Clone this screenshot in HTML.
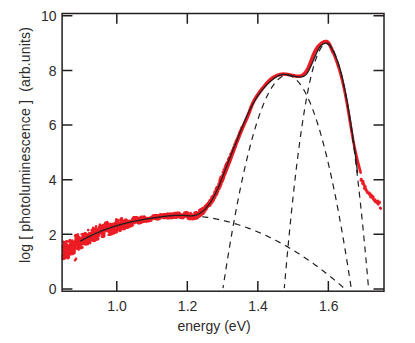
<!DOCTYPE html><html><head><meta charset="utf-8"><style>
html,body{margin:0;padding:0;background:#fff}
body{width:415px;height:343px;position:relative;overflow:hidden;font-family:"Liberation Sans",sans-serif;font-size:14px;color:#2e2b2c}
.t{position:absolute;white-space:pre;line-height:16px}
.yl{width:30px;text-align:right;left:26.6px}
.xl{width:40px;text-align:center}
</style></head><body>
<svg width="415" height="343" viewBox="0 0 415 343" style="position:absolute;left:0;top:0">
<path d="M62.6,258.7h0M62.7,255.0h0M62.7,256.8h0M62.8,255.3h0M62.8,247.3h0M62.9,246.0h0M62.9,250.2h0M63.0,250.7h0M63.0,249.9h0M63.1,253.2h0M63.1,253.4h0M63.2,256.3h0M63.2,253.1h0M63.3,241.7h0M63.3,248.4h0M63.4,254.2h0M63.5,254.7h0M63.5,256.5h0M63.6,250.4h0M63.6,250.2h0M63.7,259.0h0M63.7,249.6h0M63.8,254.6h0M63.8,244.8h0M63.9,250.9h0M63.9,243.3h0M64.0,253.6h0M64.0,252.7h0M64.1,249.8h0M64.1,246.1h0M64.2,248.4h0M64.2,256.9h0M64.3,250.0h0M64.4,250.7h0M64.4,252.8h0M64.5,253.7h0M64.5,242.3h0M64.6,252.3h0M64.6,254.4h0M64.7,247.3h0M64.7,249.6h0M64.8,250.5h0M64.8,246.4h0M64.9,247.7h0M64.9,248.2h0M65.0,245.3h0M65.0,248.4h0M65.1,252.6h0M65.2,251.3h0M65.2,251.9h0M65.3,248.4h0M65.3,254.4h0M65.4,257.8h0M65.4,248.8h0M65.5,255.3h0M65.5,258.1h0M65.6,247.2h0M65.6,252.1h0M65.7,246.5h0M65.7,251.1h0M65.8,253.8h0M65.8,254.3h0M65.9,250.8h0M65.9,249.6h0M66.0,252.1h0M66.1,249.7h0M66.1,255.5h0M66.2,248.5h0M66.2,256.9h0M66.3,249.7h0M66.3,245.7h0M66.4,244.0h0M66.4,241.3h0M66.5,256.2h0M66.5,245.8h0M66.6,243.9h0M66.6,245.0h0M66.7,253.7h0M66.7,247.7h0M66.8,241.3h0M66.9,256.5h0M66.9,247.7h0M67.0,245.0h0M67.0,253.2h0M67.1,247.5h0M67.1,255.0h0M67.2,253.9h0M67.2,254.0h0M67.3,249.6h0M67.3,251.0h0M67.4,246.4h0M67.4,254.9h0M67.5,251.4h0M67.5,246.7h0M67.6,248.5h0M67.6,256.9h0M67.7,248.2h0M67.8,253.4h0M67.8,249.6h0M67.9,250.1h0M67.9,246.2h0M68.0,251.1h0M68.0,258.3h0M68.1,257.4h0M68.1,248.2h0M68.2,252.3h0M68.2,246.1h0M68.3,249.8h0M68.3,254.1h0M68.4,246.0h0M68.4,254.1h0M68.5,257.9h0M68.6,241.5h0M68.6,257.8h0M68.7,247.4h0M68.7,246.0h0M68.8,249.2h0M68.8,257.0h0M68.9,245.3h0M68.9,255.7h0M69.0,255.1h0M69.0,250.8h0M69.1,245.8h0M69.1,247.8h0M69.2,245.5h0M69.2,250.7h0M69.3,249.4h0M69.4,253.4h0M69.4,249.8h0M69.5,245.8h0M69.5,249.5h0M69.6,246.1h0M69.6,250.4h0M69.7,250.3h0M69.7,247.6h0M69.8,248.5h0M69.8,245.1h0M69.9,246.7h0M69.9,240.1h0M70.0,248.1h0M70.0,248.1h0M70.1,251.4h0M70.1,247.0h0M70.2,244.2h0M70.3,250.0h0M70.3,247.2h0M70.4,244.0h0M70.4,247.4h0M70.5,249.0h0M70.5,242.8h0M70.6,246.4h0M70.6,245.1h0M70.7,241.9h0M70.7,242.0h0M70.8,248.1h0M70.8,248.7h0M70.9,245.4h0M70.9,247.1h0M71.0,254.2h0M71.1,241.3h0M71.1,246.4h0M71.2,243.4h0M71.2,251.1h0M71.3,241.1h0M71.3,248.7h0M71.4,246.7h0M71.4,251.9h0M71.5,246.9h0M71.5,247.1h0M71.6,246.9h0M71.6,244.3h0M71.7,245.8h0M71.7,242.1h0M71.8,247.9h0M71.8,249.9h0M71.9,246.0h0M72.0,243.4h0M72.0,240.9h0M72.1,242.8h0M72.1,253.1h0M72.2,244.8h0M72.2,240.6h0M72.3,246.3h0M72.3,248.7h0M72.4,245.6h0M72.4,248.9h0M72.5,244.5h0M72.5,247.2h0M72.6,241.8h0M72.6,245.5h0M72.7,250.4h0M72.8,245.3h0M72.8,244.2h0M72.9,250.2h0M72.9,249.7h0M73.0,254.0h0M73.0,244.8h0M73.1,250.7h0M73.1,253.9h0M73.2,253.8h0M73.2,249.7h0M73.3,246.0h0M73.3,249.4h0M73.4,247.4h0M73.4,253.6h0M73.5,253.6h0M73.5,246.2h0M73.6,247.8h0M73.7,249.9h0M73.7,245.0h0M73.8,253.4h0M73.8,251.8h0M73.9,246.4h0M73.9,243.4h0M74.0,250.5h0M74.0,244.1h0M74.1,252.5h0M74.1,248.6h0M74.2,250.2h0M74.2,253.0h0M74.3,248.0h0M74.3,245.2h0M74.4,249.0h0M74.5,248.4h0M74.5,242.6h0M74.6,252.3h0M74.6,252.7h0M74.7,249.5h0M74.7,251.2h0M74.8,241.4h0M74.8,245.0h0M74.9,249.1h0M74.9,247.9h0M75.0,235.6h0M75.0,247.3h0M75.1,247.6h0M75.1,243.4h0M75.2,241.8h0M75.2,243.1h0M75.3,247.0h0M75.4,247.6h0M75.4,240.9h0M75.5,243.0h0M75.5,248.6h0M75.6,238.0h0M75.6,239.2h0M75.7,242.6h0M75.7,242.4h0M75.8,240.3h0M75.8,243.4h0M75.9,245.6h0M75.9,239.2h0M76.0,245.3h0M76.0,238.7h0M76.1,245.3h0M76.2,240.5h0M76.2,240.6h0M76.3,235.1h0M76.3,244.0h0M76.4,245.2h0M76.4,242.5h0M76.5,244.2h0M76.5,242.3h0M76.6,238.7h0M76.6,237.4h0M76.7,235.0h0M76.7,242.8h0M76.8,234.9h0M76.8,234.9h0M76.9,241.0h0M77.0,248.4h0M77.0,240.5h0M77.1,240.0h0M77.1,248.4h0M77.2,240.0h0M77.2,241.0h0M77.3,243.0h0M77.3,238.1h0M77.4,236.8h0M77.4,242.0h0M77.5,239.5h0M77.5,242.6h0M77.6,243.1h0M77.6,240.1h0M77.7,238.5h0M77.7,242.3h0M77.8,248.0h0M77.9,238.3h0M77.9,245.9h0M78.0,240.0h0M78.0,234.5h0M78.1,240.5h0M78.1,244.6h0M78.2,245.6h0M78.2,236.7h0M78.3,240.8h0M78.3,239.0h0M78.4,237.7h0M78.4,241.2h0M78.5,242.1h0M78.5,244.4h0M78.6,249.6h0M78.7,246.4h0M78.7,241.6h0M78.8,242.0h0M78.8,240.1h0M78.9,242.0h0M78.9,241.1h0M79.0,239.0h0M79.0,244.7h0M79.1,242.8h0M79.1,247.3h0M79.2,238.7h0M79.2,241.9h0M79.3,240.5h0M79.3,237.0h0M79.4,238.6h0M79.4,242.5h0M79.5,239.7h0M79.6,247.2h0M79.6,241.1h0M79.7,242.1h0M79.7,248.0h0M79.8,238.3h0M79.8,245.1h0M79.9,240.6h0M79.9,244.3h0M80.0,239.7h0M80.0,238.6h0M80.1,245.6h0M80.1,247.8h0M80.2,243.2h0M80.2,239.9h0M80.3,243.8h0M80.4,244.6h0M80.4,240.9h0M80.5,248.2h0M80.5,244.5h0M80.6,246.8h0M80.6,241.3h0M80.7,244.6h0M80.7,245.7h0M80.8,243.2h0M80.8,246.8h0M80.9,241.9h0M80.9,244.1h0M81.0,243.0h0M81.0,244.5h0M81.1,239.1h0M81.1,242.3h0M81.2,240.2h0M81.3,240.3h0M81.3,244.4h0M81.4,239.9h0M81.4,240.5h0M81.5,240.6h0M81.5,242.8h0M81.6,242.8h0M81.6,238.8h0M81.7,234.2h0M81.7,244.0h0M81.8,239.5h0M81.8,242.3h0M81.9,238.5h0M81.9,239.6h0M82.0,237.5h0M82.1,247.7h0M82.1,242.7h0M82.2,243.9h0M82.2,240.9h0M82.3,242.9h0M82.3,242.5h0M82.4,238.1h0M82.4,234.1h0M82.5,247.4h0M82.5,241.1h0M82.6,239.0h0M82.6,239.9h0M82.7,241.0h0M82.7,244.1h0M82.8,242.7h0M82.9,237.2h0M82.9,236.0h0M83.0,239.1h0M83.0,242.1h0M83.1,239.0h0M83.1,240.0h0M83.2,237.3h0M83.2,238.6h0M83.3,240.9h0M83.3,238.2h0M83.4,242.6h0M83.4,236.0h0M83.5,234.8h0M83.5,242.3h0M83.6,237.1h0M83.6,241.6h0M83.7,234.8h0M83.8,235.3h0M83.8,238.9h0M83.9,234.8h0M83.9,239.3h0M84.0,239.9h0M84.0,239.7h0M84.1,238.3h0M84.1,238.9h0M84.2,237.4h0M84.2,239.9h0M84.3,235.5h0M84.3,234.7h0M84.4,239.6h0M84.4,242.7h0M84.5,235.8h0M84.6,234.5h0M84.6,238.7h0M84.7,242.3h0M84.7,237.4h0M84.8,233.3h0M84.8,244.3h0M84.9,236.8h0M84.9,239.3h0M85.0,241.1h0M85.0,236.8h0M85.1,242.6h0M85.1,237.5h0M85.2,234.3h0M85.2,237.9h0M85.3,241.4h0M85.3,244.3h0M85.4,242.7h0M85.5,244.5h0M85.5,233.5h0M85.6,239.5h0M85.6,242.1h0M85.7,242.9h0M85.7,242.2h0M85.8,239.9h0M85.8,242.9h0M85.9,233.5h0M85.9,241.3h0M86.0,241.4h0M86.0,237.9h0M86.1,234.2h0M86.1,234.6h0M86.2,240.4h0M86.3,238.0h0M86.3,238.3h0M86.4,237.0h0M86.4,237.9h0M86.5,241.7h0M86.5,242.7h0M86.6,238.1h0M86.6,242.4h0M86.7,234.2h0M86.7,238.4h0M86.8,241.8h0M86.8,239.5h0M86.9,240.1h0M86.9,238.8h0M87.0,235.4h0M87.0,243.0h0M87.1,244.3h0M87.2,237.2h0M87.2,238.8h0M87.3,237.7h0M87.3,236.8h0M87.4,238.8h0M87.4,235.6h0M87.5,241.0h0M87.5,237.9h0M87.6,240.7h0M87.6,241.6h0M87.7,236.0h0M87.7,236.2h0M87.8,244.1h0M87.8,241.5h0M87.9,237.0h0M88.0,234.5h0M88.0,239.9h0M88.1,238.5h0M88.1,242.4h0M88.2,230.1h0M88.2,236.6h0M88.3,235.3h0M88.3,236.1h0M88.4,235.3h0M88.4,236.4h0M88.5,239.5h0M88.5,236.1h0M88.6,238.3h0M88.6,234.5h0M88.7,241.0h0M88.8,240.4h0M88.8,236.7h0M88.9,234.8h0M88.9,238.5h0M89.0,241.2h0M89.0,239.4h0M89.1,240.7h0M89.1,233.2h0M89.2,236.4h0M89.2,235.3h0M89.3,238.4h0M89.3,241.2h0M89.4,235.8h0M89.4,234.4h0M89.5,237.8h0M89.5,239.8h0M89.6,236.4h0M89.7,241.0h0M89.7,237.5h0M89.8,242.2h0M89.8,243.1h0M89.9,238.3h0M89.9,239.1h0M90.0,234.2h0M90.0,241.0h0M90.1,239.9h0M90.1,243.1h0M90.2,243.1h0M90.2,243.1h0M90.3,237.8h0M90.3,242.8h0M90.4,235.4h0M90.5,234.3h0M90.5,239.4h0M90.6,233.2h0M90.6,237.5h0M90.7,234.5h0M90.7,238.5h0M90.8,234.7h0M90.8,240.4h0M90.9,235.4h0M90.9,238.6h0M91.0,237.4h0M91.0,234.8h0M91.1,236.1h0M91.1,236.7h0M91.2,234.0h0M91.2,233.6h0M91.3,240.2h0M91.4,234.0h0M91.4,233.4h0M91.5,237.7h0M91.5,234.0h0M91.6,239.2h0M91.6,230.3h0M91.7,235.4h0M91.7,234.7h0M91.8,230.6h0M91.8,234.6h0M91.9,232.1h0M91.9,237.1h0M92.0,235.4h0M92.0,237.9h0M92.1,234.3h0M92.2,230.4h0M92.2,232.9h0M92.3,230.9h0M92.3,236.8h0M92.4,236.4h0M92.4,235.1h0M92.5,231.9h0M92.5,232.6h0M92.6,233.7h0M92.6,231.7h0M92.7,234.2h0M92.7,233.8h0M92.8,229.6h0M92.8,235.5h0M92.9,233.1h0M92.9,228.7h0M93.0,233.4h0M93.1,231.5h0M93.1,235.6h0M93.2,227.7h0M93.2,240.7h0M93.3,237.3h0M93.3,237.0h0M93.4,228.8h0M93.4,232.7h0M93.5,234.6h0M93.5,237.8h0M93.6,232.7h0M93.6,233.5h0M93.7,236.0h0M93.7,238.5h0M93.8,237.3h0M93.9,233.2h0M93.9,232.9h0M94.0,233.6h0M94.0,234.3h0M94.1,239.3h0M94.1,233.6h0M94.2,236.9h0M94.2,233.6h0M94.3,232.2h0M94.3,235.7h0M94.4,236.8h0M94.4,230.5h0M94.5,232.5h0M94.5,235.5h0M94.6,240.9h0M94.7,233.6h0M94.7,231.5h0M94.8,229.9h0M94.8,235.4h0M94.9,235.3h0M94.9,234.6h0M95.0,230.6h0M95.0,236.8h0M95.1,233.5h0M95.1,236.0h0M95.2,232.3h0M95.2,237.8h0M95.3,231.9h0M95.3,234.5h0M95.4,233.6h0M95.4,231.3h0M95.5,229.4h0M95.6,238.1h0M95.6,229.7h0M95.7,231.1h0M95.7,233.6h0M95.8,228.4h0M95.8,232.1h0M95.9,228.7h0M95.9,234.4h0M96.0,235.2h0M96.0,228.9h0M96.1,226.4h0M96.1,230.9h0M96.2,230.2h0M96.2,234.5h0M96.3,237.2h0M96.4,234.0h0M96.4,228.8h0M96.5,239.2h0M96.5,235.1h0M96.6,239.6h0M96.6,233.5h0M96.7,231.2h0M96.7,237.8h0M96.8,235.4h0M96.8,230.2h0M96.9,234.6h0M96.9,238.2h0M97.0,238.6h0M97.0,239.7h0M97.1,232.4h0M97.1,237.2h0M97.2,231.8h0M97.3,232.5h0M97.3,237.2h0M97.4,236.9h0M97.4,233.1h0M97.5,235.1h0M97.5,234.8h0M97.6,239.5h0M97.6,233.1h0M97.7,238.6h0M97.7,239.4h0M97.8,238.1h0M97.8,235.0h0M97.9,230.0h0M97.9,237.6h0M98.0,239.3h0M98.1,229.9h0M98.1,235.6h0M98.2,236.7h0M98.2,238.9h0M98.3,238.4h0M98.3,230.6h0M98.4,235.7h0M98.4,236.2h0M98.5,235.9h0M98.5,229.3h0M98.6,235.6h0M98.6,231.7h0M98.7,232.5h0M98.7,232.3h0M98.8,235.5h0M98.8,230.6h0M98.9,227.4h0M99.0,232.2h0M99.0,234.6h0M99.1,235.5h0M99.1,230.7h0M99.2,231.9h0M99.2,231.1h0M99.3,230.5h0M99.3,234.8h0M99.4,227.7h0M99.4,229.1h0M99.5,229.8h0M99.5,228.6h0M99.6,226.2h0M99.6,228.6h0M99.7,231.1h0M99.8,224.9h0M99.8,229.3h0M99.9,230.0h0M99.9,232.2h0M100.0,227.3h0M100.0,230.3h0M100.1,228.8h0M100.1,226.0h0M100.2,227.3h0M100.2,224.7h0M100.3,226.7h0M100.3,228.9h0M100.4,228.8h0M100.4,229.4h0M100.5,226.0h0M100.5,228.0h0M100.6,229.3h0M100.7,225.7h0M100.7,228.0h0M100.8,229.8h0M100.8,233.0h0M100.9,227.2h0M100.9,227.9h0M101.0,228.6h0M101.0,230.1h0M101.1,231.4h0M101.1,229.7h0M101.2,228.4h0M101.2,229.5h0M101.3,229.7h0M101.3,230.7h0M101.4,228.4h0M101.5,228.8h0M101.5,231.8h0M101.6,227.4h0M101.6,227.4h0M101.7,227.4h0M101.7,230.3h0M101.8,230.6h0M101.8,233.6h0M101.9,227.9h0M101.9,236.7h0M102.0,231.5h0M102.0,231.4h0M102.1,227.9h0M102.1,230.4h0M102.2,233.3h0M102.3,234.7h0M102.3,232.7h0M102.4,230.2h0M102.4,230.4h0M102.5,231.1h0M102.5,232.6h0M102.6,231.2h0M102.6,227.6h0M102.7,233.9h0M102.7,230.5h0M102.8,225.8h0M102.8,229.0h0M102.9,232.0h0M102.9,228.7h0M103.0,232.9h0M103.0,230.7h0M103.1,226.1h0M103.2,225.1h0M103.2,235.9h0M103.3,228.7h0M103.3,225.0h0M103.4,232.5h0M103.4,230.1h0M103.5,226.4h0M103.5,232.4h0M103.6,229.6h0M103.6,231.1h0M103.7,236.7h0M103.7,229.9h0M103.8,231.5h0M103.8,228.2h0M103.9,224.8h0M104.0,229.0h0M104.0,232.1h0M104.1,229.5h0M104.1,230.0h0M104.2,227.4h0M104.2,234.5h0M104.3,233.5h0M104.3,235.9h0M104.4,227.9h0M104.4,229.6h0M104.5,231.2h0M104.5,231.3h0M104.6,230.6h0M104.6,231.5h0M104.7,229.5h0M104.7,229.8h0M104.8,224.1h0M104.9,227.0h0M104.9,230.2h0M105.0,229.3h0M105.0,223.9h0M105.1,225.9h0M105.1,226.2h0M105.2,224.7h0M105.2,222.9h0M105.3,230.0h0M105.3,228.5h0M105.4,231.2h0M105.4,224.4h0M105.5,226.8h0M105.5,227.5h0M105.6,227.6h0M105.7,223.1h0M105.7,225.3h0M105.8,226.3h0M105.8,222.7h0M105.9,227.4h0M105.9,227.9h0M106.0,222.6h0M106.0,225.0h0M106.1,225.6h0M106.1,226.3h0M106.2,224.7h0M106.2,222.5h0M106.3,222.5h0M106.3,223.0h0M106.4,225.6h0M106.4,229.3h0M106.5,224.2h0M106.6,222.4h0M106.6,222.3h0M106.7,225.9h0M106.7,223.2h0M106.8,226.8h0M106.8,226.0h0M106.9,229.6h0M106.9,227.0h0M107.0,225.8h0M107.0,226.8h0M107.1,224.2h0M107.1,222.1h0M107.2,222.8h0M107.2,227.7h0M107.3,229.1h0M107.4,229.0h0M107.4,230.1h0M107.5,227.2h0M107.5,226.2h0M107.6,227.1h0M107.6,227.2h0M107.7,227.4h0M107.7,228.4h0M107.8,230.3h0M107.8,223.1h0M107.9,225.2h0M107.9,231.2h0M108.0,231.4h0M108.0,230.5h0M108.1,228.7h0M108.2,225.1h0M108.2,225.9h0M108.3,225.9h0M108.3,225.9h0M108.4,225.9h0M108.4,227.1h0M108.5,228.0h0M108.5,229.8h0M108.6,234.8h0M108.6,230.0h0M108.7,224.3h0M108.7,231.4h0M108.8,231.8h0M108.8,226.9h0M108.9,229.8h0M108.9,231.6h0M109.0,225.5h0M109.1,228.4h0M109.1,228.1h0M109.2,232.2h0M109.2,229.1h0M109.3,229.5h0M109.3,228.4h0M109.4,227.3h0M109.4,227.5h0M109.5,230.5h0M109.5,229.0h0M109.6,234.6h0M109.6,229.3h0M109.7,229.2h0M109.7,232.6h0M109.8,233.8h0M109.9,231.7h0M109.9,234.7h0M110.0,230.7h0M110.0,230.9h0M110.1,234.6h0M110.1,231.4h0M110.2,228.3h0M110.2,228.2h0M110.3,228.3h0M110.3,231.7h0M110.4,232.2h0M110.4,232.2h0M110.5,229.1h0M110.5,223.7h0M110.6,226.5h0M110.6,225.8h0M110.7,226.5h0M110.8,234.4h0M110.8,231.0h0M110.9,231.6h0M110.9,226.4h0M111.0,225.0h0M111.0,232.0h0M111.1,229.8h0M111.1,228.1h0M111.2,231.2h0M111.2,231.6h0M111.3,231.6h0M111.3,226.8h0M111.4,232.1h0M111.4,225.8h0M111.5,228.9h0M111.6,226.8h0M111.6,224.3h0M111.7,230.9h0M111.7,231.3h0M111.8,227.4h0M111.8,231.8h0M111.9,230.7h0M111.9,228.8h0M112.0,227.9h0M112.0,232.2h0M112.1,229.6h0M112.1,226.8h0M112.2,224.6h0M112.2,234.0h0M112.3,225.0h0M112.3,226.4h0M112.4,232.5h0M112.5,233.8h0M112.5,228.2h0M112.6,230.8h0M112.6,229.2h0M112.7,227.2h0M112.7,231.0h0M112.8,229.5h0M112.8,228.7h0M112.9,227.6h0M112.9,225.1h0M113.0,225.4h0M113.0,229.9h0M113.1,231.4h0M113.1,223.7h0M113.2,229.0h0M113.3,229.8h0M113.3,233.5h0M113.4,229.0h0M113.4,233.5h0M113.5,232.9h0M113.5,233.4h0M113.6,233.3h0M113.6,231.7h0M113.7,233.3h0M113.7,233.3h0M113.8,232.4h0M113.8,233.3h0M113.9,233.3h0M113.9,233.2h0M114.0,233.2h0M114.1,230.6h0M114.1,233.2h0M114.2,229.6h0M114.2,228.9h0M114.3,233.1h0M114.3,231.0h0M114.4,232.3h0M114.4,233.0h0M114.5,231.3h0M114.5,230.8h0M114.6,227.8h0M114.6,226.6h0M114.7,232.6h0M114.7,230.3h0M114.8,227.3h0M114.8,225.1h0M114.9,232.8h0M115.0,224.3h0M115.0,228.3h0M115.1,223.1h0M115.1,228.5h0M115.2,229.5h0M115.2,226.7h0M115.3,223.2h0M115.3,226.2h0M115.4,232.6h0M115.4,223.8h0M115.5,230.2h0M115.5,228.2h0M115.6,228.4h0M115.6,230.1h0M115.7,228.2h0M115.8,227.2h0M115.8,225.9h0M115.9,224.0h0M115.9,224.6h0M116.0,227.6h0M116.0,223.7h0M116.1,220.5h0M116.1,220.7h0M116.2,223.1h0M116.2,221.8h0M116.3,221.1h0M116.3,219.8h0M116.4,219.3h0M116.4,224.8h0M116.5,224.8h0M116.5,219.9h0M116.6,219.7h0M116.7,219.8h0M116.7,231.0h0M116.8,225.0h0M116.8,232.1h0M116.9,222.5h0M116.9,224.5h0M117.0,224.6h0M117.0,225.2h0M117.1,221.2h0M117.1,225.8h0M117.2,222.2h0M117.2,223.6h0M117.3,224.3h0M117.3,224.0h0M117.4,225.1h0M117.5,228.6h0M117.5,223.6h0M117.6,223.7h0M117.6,226.2h0M117.7,223.8h0M117.7,223.4h0M117.8,229.6h0M117.8,226.5h0M117.9,227.4h0M117.9,228.8h0M118.0,225.4h0M118.0,228.7h0M118.1,227.6h0M118.1,225.7h0M118.2,225.4h0M118.2,225.5h0M118.3,220.2h0M118.4,227.8h0M118.4,225.7h0M118.5,229.8h0M118.5,225.1h0M118.6,223.2h0M118.6,223.1h0M118.7,228.2h0M118.7,227.2h0M118.8,223.0h0M118.8,226.7h0M118.9,223.8h0M118.9,229.1h0M119.0,222.6h0M119.0,223.6h0M119.1,225.2h0M119.2,228.7h0M119.2,226.9h0M119.3,226.1h0M119.3,225.8h0M119.4,226.8h0M119.4,227.1h0M119.5,226.0h0M119.5,222.7h0M119.6,231.0h0M119.6,230.3h0M119.7,230.7h0M119.7,228.4h0M119.8,230.9h0M119.8,225.0h0M119.9,226.3h0M119.9,227.2h0M120.0,228.4h0M120.1,226.0h0M120.1,225.8h0M120.2,225.2h0M120.2,228.0h0M120.3,224.1h0M120.3,229.7h0M120.4,222.2h0M120.4,230.7h0M120.5,226.9h0M120.5,228.4h0M120.6,223.0h0M120.6,228.9h0M120.7,219.9h0M120.7,228.8h0M120.8,219.1h0M120.9,223.2h0M120.9,224.2h0M121.0,223.0h0M121.0,218.5h0M121.1,221.5h0M121.1,229.7h0M121.2,220.5h0M121.2,222.9h0M121.3,227.7h0M121.3,221.2h0M121.4,226.3h0M121.4,222.5h0M121.5,222.3h0M121.5,224.5h0M121.6,220.9h0M121.7,225.2h0M121.7,221.9h0M121.8,223.7h0M121.8,222.6h0M121.9,218.3h0M121.9,221.6h0M122.0,224.6h0M122.0,222.0h0M122.1,223.9h0M122.1,222.0h0M122.2,221.8h0M122.2,222.1h0M122.3,222.3h0M122.3,224.1h0M122.4,221.7h0M122.4,220.3h0M122.5,224.8h0M122.6,223.5h0M122.6,223.3h0M122.7,220.4h0M122.7,221.0h0M122.8,225.8h0M122.8,223.9h0M122.9,228.0h0M122.9,226.8h0M123.0,224.5h0M123.0,223.1h0M123.1,222.4h0M123.1,225.8h0M123.2,228.5h0M123.2,224.3h0M123.3,225.9h0M123.4,224.5h0M123.4,225.3h0M123.5,224.1h0M123.5,224.4h0M123.6,224.0h0M123.6,227.4h0M123.7,224.0h0M123.7,227.8h0M123.8,226.5h0M123.8,222.3h0M123.9,226.1h0M123.9,229.2h0M124.0,223.6h0M124.0,224.7h0M124.1,224.3h0M124.1,226.4h0M124.2,225.9h0M124.3,227.2h0M124.3,228.2h0M124.4,222.6h0M124.4,227.1h0M124.5,227.2h0M124.5,226.9h0M124.6,221.2h0M124.6,223.5h0M124.7,226.3h0M124.7,225.4h0M124.8,223.9h0M124.8,222.9h0M124.9,228.7h0M124.9,222.6h0M125.0,225.1h0M125.1,226.1h0M125.1,225.2h0M125.2,222.3h0M125.2,219.9h0M125.3,223.6h0M125.3,222.5h0M125.4,225.5h0M125.4,222.3h0M125.5,221.4h0M125.5,226.7h0M125.6,224.3h0M125.6,221.1h0M125.7,226.9h0M125.7,223.6h0M125.8,221.2h0M125.8,226.3h0M125.9,223.2h0M126.0,222.0h0M126.0,220.0h0M126.1,225.1h0M126.1,219.8h0M126.2,221.8h0M126.2,219.9h0M126.3,220.1h0M126.3,222.1h0M126.4,221.9h0M126.4,227.0h0M126.5,226.3h0M126.5,225.6h0M126.6,224.3h0M126.6,221.5h0M126.7,227.7h0M126.8,224.6h0M126.8,226.9h0M126.9,227.5h0M126.9,221.0h0M127.0,224.1h0M127.0,220.9h0M127.1,222.0h0M127.1,226.7h0M127.2,227.8h0M127.2,220.4h0M127.3,225.9h0M127.3,227.7h0M127.4,223.8h0M127.4,225.1h0M127.5,227.0h0M127.6,226.4h0M127.6,225.4h0M127.7,225.7h0M127.7,224.4h0M127.8,226.9h0M127.8,226.9h0M127.9,225.1h0M127.9,225.8h0M128.0,224.2h0M128.0,227.1h0M128.1,226.7h0M128.1,227.4h0M128.2,223.1h0M128.2,227.3h0M128.3,225.7h0M128.3,227.3h0M128.4,225.2h0M128.5,224.3h0M128.5,227.2h0M128.6,226.1h0M128.6,227.2h0M128.7,222.6h0M128.7,226.3h0M128.8,227.1h0M128.8,226.6h0M128.9,222.4h0M128.9,222.0h0M129.0,222.4h0M129.0,226.5h0M129.1,225.1h0M129.1,221.4h0M129.2,226.1h0M129.3,225.2h0M129.3,226.4h0M129.4,226.7h0M129.4,221.9h0M129.5,222.9h0M129.5,223.2h0M129.6,222.9h0M129.6,221.9h0M129.7,220.9h0M129.7,223.8h0M129.8,224.4h0M129.8,225.6h0M129.9,221.4h0M129.9,224.5h0M130.0,226.3h0M130.0,223.9h0M130.1,223.3h0M130.2,221.8h0M130.2,221.5h0M130.3,224.8h0M130.3,225.0h0M130.4,224.1h0M130.4,225.8h0M130.5,223.7h0M130.5,222.6h0M130.6,223.4h0M130.6,226.3h0M130.7,225.7h0M130.7,221.1h0M130.8,225.4h0M130.8,222.1h0M130.9,222.3h0M131.0,224.1h0M131.0,225.4h0M131.1,223.2h0M131.1,225.2h0M131.2,223.9h0M131.2,223.4h0M131.3,224.9h0M131.3,224.0h0M131.4,224.2h0M131.4,225.9h0M131.5,224.0h0M131.5,224.8h0M131.6,225.9h0M131.6,224.2h0M131.7,224.2h0M131.7,224.7h0M131.8,225.8h0M131.9,222.3h0M131.9,222.4h0M132.0,222.5h0M132.0,223.1h0M132.1,225.7h0M132.1,223.2h0M132.2,224.9h0M132.2,219.3h0M132.3,223.9h0M132.3,221.7h0M132.4,225.5h0M132.4,224.7h0M132.5,223.4h0M132.5,221.2h0M132.6,221.3h0M132.7,221.6h0M132.7,225.2h0M132.8,219.9h0M132.8,223.3h0M132.9,218.9h0M132.9,218.3h0M133.0,220.0h0M133.0,219.6h0M133.1,223.3h0M133.1,217.7h0M133.2,220.6h0M133.2,219.1h0M133.3,222.1h0M133.3,220.7h0M133.4,222.4h0M133.5,220.7h0M133.5,220.2h0M133.6,219.7h0M133.6,217.7h0M133.7,219.1h0M133.7,219.4h0M133.8,219.6h0M133.8,217.7h0M133.9,220.4h0M133.9,217.7h0M134.0,222.4h0M134.0,220.6h0M134.1,218.5h0M134.1,219.4h0M134.2,217.7h0M134.2,217.7h0M134.3,221.5h0M134.4,220.8h0M134.4,219.3h0M134.5,217.7h0M134.5,217.7h0M134.6,218.5h0M134.6,221.2h0M134.7,220.3h0M134.7,223.1h0M134.8,221.3h0M134.8,218.3h0M134.9,217.7h0M134.9,220.9h0M135.0,218.7h0M135.0,217.7h0M135.1,218.6h0M135.2,219.3h0M135.2,217.9h0M135.3,218.0h0M135.3,218.6h0M135.4,219.6h0M135.4,219.4h0M135.5,218.6h0M135.5,219.5h0M135.6,217.6h0M135.6,217.6h0M135.7,217.6h0M135.7,217.6h0M135.8,217.6h0M135.8,217.6h0M135.9,218.0h0M135.9,218.8h0M136.0,217.5h0M136.1,219.6h0M136.1,219.6h0M136.2,220.0h0M136.2,218.5h0M136.3,218.2h0M136.3,217.5h0M136.4,219.3h0M136.4,221.6h0M136.5,218.7h0M136.5,217.7h0M136.6,219.2h0M136.6,219.5h0M136.7,218.6h0M136.7,217.4h0M136.8,219.6h0M136.9,221.7h0M136.9,220.5h0M137.0,219.9h0M137.0,222.4h0M137.1,218.7h0M137.1,221.0h0M137.2,219.2h0M137.2,219.7h0M137.3,220.5h0M137.3,217.8h0M137.4,221.0h0M137.4,221.3h0M137.5,219.9h0M137.5,219.2h0M137.6,220.5h0M137.6,221.9h0M137.7,219.6h0M137.8,219.8h0M137.8,217.7h0M137.9,221.1h0M137.9,220.5h0M138.0,221.7h0M138.0,223.0h0M138.1,220.8h0M138.1,219.6h0M138.2,222.2h0M138.2,221.7h0M138.3,222.3h0M138.3,218.7h0M138.4,221.5h0M138.4,219.7h0M138.5,221.7h0M138.6,220.3h0M138.6,221.2h0M138.7,223.5h0M138.7,220.2h0M138.8,219.5h0M138.8,223.1h0M138.9,220.4h0M138.9,220.7h0M139.0,221.5h0M139.0,220.3h0M139.1,222.6h0M139.1,219.5h0M139.2,218.2h0M139.2,221.5h0M139.3,219.8h0M139.4,217.7h0M139.4,219.5h0M139.5,220.3h0M139.5,220.8h0M139.6,219.2h0M139.6,219.6h0M139.7,218.5h0M139.7,221.4h0M139.8,217.8h0M139.8,219.8h0M139.9,218.3h0M139.9,220.1h0M140.0,220.9h0M140.0,219.9h0M140.1,220.4h0M140.1,219.7h0M140.2,218.3h0M140.3,217.8h0M140.3,219.0h0M140.4,220.0h0M140.4,219.9h0M140.5,218.5h0M140.5,217.8h0M140.6,219.8h0M140.6,219.6h0M140.7,220.4h0M140.7,219.2h0M140.8,218.2h0M140.8,223.0h0M140.9,219.2h0M140.9,220.3h0M141.0,222.6h0M141.1,219.2h0M141.1,219.7h0M141.2,219.1h0M141.2,221.4h0M141.3,216.9h0M141.3,219.5h0M141.4,220.2h0M141.4,217.7h0M141.5,218.9h0M141.5,218.7h0M141.6,218.3h0M141.6,222.5h0M141.7,217.7h0M141.7,220.3h0M141.8,219.5h0M141.8,218.7h0M141.9,220.9h0M142.0,219.5h0M142.0,219.0h0M142.1,220.0h0M142.1,219.3h0M142.2,221.9h0M142.2,221.4h0M142.3,221.3h0M142.3,219.3h0M142.4,216.8h0M142.4,219.4h0M142.5,219.9h0M142.5,219.7h0M142.6,218.4h0M142.6,218.7h0M142.7,221.0h0M142.8,218.2h0M142.8,219.5h0M142.9,218.4h0M142.9,221.9h0M143.0,221.3h0M143.0,218.6h0M143.1,221.6h0M143.1,218.8h0M143.2,218.8h0M143.2,219.0h0M143.3,218.7h0M143.3,218.8h0M143.4,218.6h0M143.4,219.6h0M143.5,219.1h0M143.5,216.7h0M143.6,217.6h0M143.7,218.2h0M143.7,218.5h0M143.8,219.8h0M143.8,218.6h0M143.9,219.2h0M143.9,217.7h0M144.0,219.9h0M144.0,221.7h0M144.1,219.5h0M144.1,218.0h0M144.2,216.6h0M144.2,217.7h0M144.3,220.1h0M144.3,219.2h0M144.4,220.2h0M144.5,219.3h0M144.5,220.1h0M144.6,221.1h0M144.6,218.6h0M144.7,218.9h0M144.7,219.4h0M144.8,218.8h0M144.8,216.8h0M144.9,219.1h0M144.9,219.7h0M145.0,218.3h0M145.0,221.3h0M145.1,218.5h0M145.1,220.3h0M145.2,220.4h0M145.2,219.3h0M145.3,217.5h0M145.4,220.4h0M145.4,218.4h0M145.5,219.1h0M145.5,221.2h0M145.6,218.6h0M145.6,220.6h0M145.7,221.4h0M145.7,220.6h0M145.8,220.6h0M145.8,219.1h0M145.9,220.6h0M145.9,218.1h0M146.0,219.6h0M146.0,220.7h0M146.1,220.8h0M146.2,219.6h0M146.2,221.6h0M146.3,221.6h0M146.3,221.0h0M146.4,219.2h0M146.4,219.8h0M146.5,220.0h0M146.5,220.3h0M146.6,221.5h0M146.6,220.4h0M146.7,221.5h0M146.7,219.1h0M146.8,220.1h0M146.8,220.2h0M146.9,219.7h0M147.0,219.8h0M147.0,219.9h0M147.1,219.8h0M147.1,220.8h0M147.2,221.4h0M147.2,219.8h0M147.3,218.6h0M147.3,219.1h0M147.4,220.5h0M147.4,219.6h0M147.5,220.8h0M147.5,219.9h0M147.6,221.0h0M147.6,220.2h0M147.7,218.1h0M147.7,219.5h0M147.8,218.7h0M147.9,221.2h0M147.9,221.1h0M148.0,220.4h0M148.0,219.8h0M148.1,220.6h0M148.1,219.3h0M148.2,221.0h0M148.2,218.9h0M148.3,219.3h0M148.3,221.1h0M148.4,219.7h0M148.4,220.6h0M148.5,219.2h0M148.5,220.9h0M148.6,220.0h0M148.7,219.7h0M148.7,221.1h0M148.8,221.1h0M148.8,220.2h0M148.9,220.4h0M148.9,219.2h0M149.0,220.0h0M149.0,221.0h0M149.1,219.9h0M149.1,221.0h0M149.2,220.5h0M149.2,220.8h0M149.3,219.9h0M149.3,221.0h0M149.4,220.9h0M149.4,220.9h0M149.5,217.9h0M149.6,220.9h0M149.6,220.9h0M149.7,220.9h0M149.7,220.9h0M149.8,220.7h0M149.8,219.5h0M149.9,220.0h0M149.9,219.8h0M150.0,220.8h0M150.0,220.2h0M150.1,218.7h0M150.1,220.0h0M150.2,219.6h0M150.2,220.8h0M150.3,219.2h0M150.4,219.5h0M150.4,218.3h0M150.5,220.8h0M150.5,219.5h0M150.6,219.6h0M150.6,219.3h0M150.7,220.0h0M150.7,219.1h0M150.8,218.5h0M150.8,219.1h0M150.9,219.4h0M150.9,219.3h0M151.0,219.4h0M151.0,218.9h0M151.1,219.6h0M151.1,220.6h0M151.2,217.3h0M151.3,220.5h0M151.3,218.7h0M151.4,219.9h0M151.4,218.8h0M151.5,219.4h0M151.5,218.4h0M151.6,219.2h0M151.6,219.6h0M151.7,217.8h0M151.7,216.7h0M151.8,217.7h0M151.8,217.9h0M151.9,219.0h0M151.9,217.9h0M152.0,217.3h0M152.1,218.4h0M152.1,216.7h0M152.2,217.7h0M152.2,217.2h0M152.3,218.0h0M152.3,218.0h0M152.4,217.2h0M152.4,216.9h0M152.5,216.9h0M152.5,218.3h0M152.6,218.0h0M152.6,217.2h0M152.7,219.0h0M152.7,215.9h0M152.8,216.6h0M152.9,216.9h0M152.9,217.6h0M153.0,215.9h0M153.0,217.0h0M153.1,215.6h0M153.1,216.2h0M153.2,218.2h0M153.2,215.8h0M153.3,217.0h0M153.3,217.0h0M153.4,216.6h0M153.4,216.5h0M153.5,216.0h0M153.5,215.5h0M153.6,215.7h0M153.6,216.9h0M153.7,217.5h0M153.8,216.8h0M153.8,215.6h0M153.9,215.5h0M153.9,215.5h0M154.0,217.2h0M154.0,215.7h0M154.1,216.1h0M154.1,216.3h0M154.2,215.8h0M154.2,216.2h0M154.3,216.3h0M154.3,216.7h0M154.4,215.7h0M154.4,215.4h0M154.5,215.4h0M154.6,216.7h0M154.6,217.3h0M154.7,216.6h0M154.7,217.2h0M154.8,215.4h0M154.8,217.3h0M154.9,216.4h0M154.9,217.9h0M155.0,216.9h0M155.0,216.4h0M155.1,215.3h0M155.1,217.4h0M155.2,216.3h0M155.2,218.9h0M155.3,218.0h0M155.3,217.7h0M155.4,217.4h0M155.5,216.5h0M155.5,216.3h0M155.6,218.7h0M155.6,216.5h0M155.7,218.2h0M155.7,215.2h0M155.8,216.8h0M155.8,217.0h0M155.9,217.4h0M155.9,217.3h0M156.0,217.3h0M156.0,218.1h0M156.1,216.6h0M156.1,217.1h0M156.2,216.6h0M156.3,217.5h0M156.3,216.7h0M156.4,218.2h0M156.4,215.2h0M156.5,218.2h0M156.5,217.9h0M156.6,216.5h0M156.6,216.2h0M156.7,218.3h0M156.7,219.2h0M156.8,218.9h0M156.8,218.5h0M156.9,218.3h0M156.9,217.7h0M157.0,216.5h0M157.0,216.5h0M157.1,218.2h0M157.2,217.0h0M157.2,216.7h0M157.3,216.2h0M157.3,217.8h0M157.4,218.4h0M157.4,216.9h0M157.5,216.1h0M157.5,218.2h0M157.6,215.7h0M157.6,216.0h0M157.7,218.0h0M157.7,219.3h0M157.8,218.4h0M157.8,218.1h0M157.9,217.2h0M158.0,219.5h0M158.0,215.3h0M158.1,215.3h0M158.1,218.4h0M158.2,219.5h0M158.2,217.7h0M158.3,217.0h0M158.3,216.0h0M158.4,216.6h0M158.4,217.5h0M158.5,219.2h0M158.5,216.6h0M158.6,216.2h0M158.6,217.3h0M158.7,216.6h0M158.8,216.7h0M158.8,217.0h0M158.9,217.9h0M158.9,216.3h0M159.0,218.0h0M159.0,215.1h0M159.1,217.4h0M159.1,215.9h0M159.2,217.1h0M159.2,215.9h0M159.3,216.4h0M159.3,215.6h0M159.4,216.9h0M159.4,217.6h0M159.5,216.2h0M159.5,216.2h0M159.6,217.3h0M159.7,216.4h0M159.7,217.4h0M159.8,215.5h0M159.8,215.9h0M159.9,215.5h0M159.9,214.7h0M160.0,215.2h0M160.0,215.0h0M160.1,214.8h0M160.1,215.5h0M160.2,216.0h0M160.2,214.7h0M160.3,214.7h0M160.3,218.4h0M160.4,215.7h0M160.5,215.9h0M160.5,216.2h0M160.6,214.7h0M160.6,216.2h0M160.7,214.9h0M160.7,216.3h0M160.8,216.2h0M160.8,215.1h0M160.9,216.6h0M160.9,216.1h0M161.0,217.0h0M161.0,216.9h0M161.1,215.3h0M161.1,215.5h0M161.2,217.2h0M161.2,217.3h0M161.3,214.6h0M161.4,216.8h0M161.4,217.1h0M161.5,215.7h0M161.5,217.0h0M161.6,216.7h0M161.6,215.5h0M161.7,215.4h0M161.7,216.6h0M161.8,215.1h0M161.8,216.6h0M161.9,216.7h0M161.9,216.5h0M162.0,216.9h0M162.0,216.1h0M162.1,216.3h0M162.2,217.3h0M162.2,216.4h0M162.3,217.1h0M162.3,217.1h0M162.4,216.7h0M162.4,215.5h0M162.5,216.3h0M162.5,215.3h0M162.6,215.0h0M162.6,216.6h0M162.7,217.1h0M162.7,217.3h0M162.8,216.2h0M162.8,215.7h0M162.9,214.9h0M162.9,217.8h0M163.0,215.6h0M163.1,215.4h0M163.1,214.3h0M163.2,216.3h0M163.2,216.5h0M163.3,218.0h0M163.3,217.3h0M163.4,217.6h0M163.4,217.5h0M163.5,217.4h0M163.5,218.0h0M163.6,216.6h0M163.6,216.1h0M163.7,215.7h0M163.7,216.5h0M163.8,215.4h0M163.9,215.4h0M163.9,217.9h0M164.0,216.7h0M164.0,217.7h0M164.1,217.4h0M164.1,216.2h0M164.2,216.5h0M164.2,214.9h0M164.3,214.3h0M164.3,215.9h0M164.4,216.5h0M164.4,216.5h0M164.5,216.3h0M164.5,215.7h0M164.6,217.0h0M164.7,215.7h0M164.7,216.5h0M164.8,215.2h0M164.8,214.9h0M164.9,214.5h0M164.9,216.4h0M165.0,217.6h0M165.0,217.9h0M165.1,216.5h0M165.1,217.6h0M165.2,217.8h0M165.2,216.5h0M165.3,217.2h0M165.3,215.5h0M165.4,214.2h0M165.4,216.4h0M165.5,215.8h0M165.6,217.7h0M165.6,215.9h0M165.7,216.8h0M165.7,217.2h0M165.8,217.9h0M165.8,214.4h0M165.9,217.7h0M165.9,217.3h0M166.0,216.0h0M166.0,215.7h0M166.1,215.7h0M166.1,215.9h0M166.2,216.9h0M166.2,215.3h0M166.3,215.8h0M166.4,217.5h0M166.4,214.4h0M166.5,216.4h0M166.5,215.1h0M166.6,217.5h0M166.6,217.3h0M166.7,216.6h0M166.7,216.8h0M166.8,215.0h0M166.8,217.7h0M166.9,215.9h0M166.9,217.1h0M167.0,215.5h0M167.0,215.9h0M167.1,216.6h0M167.1,213.8h0M167.2,216.1h0M167.3,215.0h0M167.3,217.4h0M167.4,216.2h0M167.4,216.0h0M167.5,216.0h0M167.5,216.5h0M167.6,216.9h0M167.6,218.3h0M167.7,216.7h0M167.7,217.0h0M167.8,216.4h0M167.8,215.2h0M167.9,213.9h0M167.9,215.6h0M168.0,215.1h0M168.1,215.5h0M168.1,215.4h0M168.2,215.5h0M168.2,216.4h0M168.3,216.4h0M168.3,215.8h0M168.4,214.3h0M168.4,215.3h0M168.5,214.5h0M168.5,217.4h0M168.6,215.8h0M168.6,215.7h0M168.7,215.6h0M168.7,217.5h0M168.8,218.0h0M168.8,218.2h0M168.9,216.5h0M169.0,213.7h0M169.0,215.9h0M169.1,217.3h0M169.1,215.7h0M169.2,216.4h0M169.2,215.9h0M169.3,216.5h0M169.3,217.4h0M169.4,216.6h0M169.4,215.3h0M169.5,215.8h0M169.5,214.8h0M169.6,217.2h0M169.6,215.0h0M169.7,216.0h0M169.8,215.9h0M169.8,214.8h0M169.9,216.2h0M169.9,215.8h0M170.0,215.4h0M170.0,215.4h0M170.1,215.2h0M170.1,214.8h0M170.2,215.6h0M170.2,216.6h0M170.3,213.6h0M170.3,216.2h0M170.4,215.8h0M170.4,217.0h0M170.5,218.1h0M170.5,217.1h0M170.6,216.2h0M170.7,215.8h0M170.7,216.3h0M170.8,215.5h0M170.8,215.4h0M170.9,215.4h0M170.9,216.4h0M171.0,216.4h0M171.0,216.7h0M171.1,217.4h0M171.1,215.0h0M171.2,217.8h0M171.2,216.6h0M171.3,216.4h0M171.3,218.0h0M171.4,215.9h0M171.5,217.0h0M171.5,216.5h0M171.6,217.1h0M171.6,218.0h0M171.7,216.6h0M171.7,216.7h0M171.8,215.8h0M171.8,216.3h0M171.9,218.0h0M171.9,215.7h0M172.0,216.1h0M172.0,216.1h0M172.1,216.3h0M172.1,217.5h0M172.2,216.2h0M172.3,217.0h0M172.3,213.6h0M172.4,216.8h0M172.4,217.7h0M172.5,216.8h0M172.5,214.9h0M172.6,216.9h0M172.6,217.9h0M172.7,214.7h0M172.7,215.8h0M172.8,216.7h0M172.8,215.3h0M172.9,217.0h0M172.9,217.2h0M173.0,214.9h0M173.0,216.4h0M173.1,215.3h0M173.2,215.8h0M173.2,214.8h0M173.3,215.6h0M173.3,217.8h0M173.4,214.8h0M173.4,216.0h0M173.5,214.5h0M173.5,215.3h0M173.6,213.9h0M173.6,215.6h0M173.7,217.4h0M173.7,215.5h0M173.8,214.6h0M173.8,215.5h0M173.9,215.5h0M174.0,213.4h0M174.0,215.1h0M174.1,213.8h0M174.1,214.8h0M174.2,216.5h0M174.2,216.0h0M174.3,215.3h0M174.3,214.7h0M174.4,215.9h0M174.4,216.5h0M174.5,216.1h0M174.5,215.6h0M174.6,216.0h0M174.6,215.7h0M174.7,213.1h0M174.7,214.8h0M174.8,216.0h0M174.9,215.1h0M174.9,213.5h0M175.0,214.5h0M175.0,215.3h0M175.1,216.6h0M175.1,217.0h0M175.2,215.6h0M175.2,215.3h0M175.3,217.0h0M175.3,216.7h0M175.4,215.3h0M175.4,217.6h0M175.5,217.1h0M175.5,215.4h0M175.6,214.7h0M175.7,215.0h0M175.7,214.3h0M175.8,213.7h0M175.8,214.4h0M175.9,215.7h0M175.9,213.1h0M176.0,213.6h0M176.0,214.4h0M176.1,216.2h0M176.1,214.9h0M176.2,217.5h0M176.2,215.6h0M176.3,217.8h0M176.3,215.6h0M176.4,214.0h0M176.4,215.1h0M176.5,213.3h0M176.6,215.0h0M176.6,214.9h0M176.7,215.3h0M176.7,214.4h0M176.8,214.9h0M176.8,213.6h0M176.9,213.1h0M176.9,214.4h0M177.0,216.0h0M177.0,214.1h0M177.1,213.2h0M177.1,213.9h0M177.2,214.3h0M177.2,213.6h0M177.3,213.1h0M177.4,217.3h0M177.4,212.9h0M177.5,213.6h0M177.5,213.9h0M177.6,215.0h0M177.6,214.1h0M177.7,213.6h0M177.7,215.9h0M177.8,213.4h0M177.8,214.1h0M177.9,212.9h0M177.9,213.4h0M178.0,214.3h0M178.0,214.1h0M178.1,213.5h0M178.2,214.0h0M178.2,213.6h0M178.3,215.0h0M178.3,215.7h0M178.4,215.0h0M178.4,215.9h0M178.5,215.3h0M178.5,214.1h0M178.6,216.3h0M178.6,215.9h0M178.7,213.8h0M178.7,215.2h0M178.8,214.7h0M178.8,216.0h0M178.9,215.9h0M178.9,215.1h0M179.0,213.1h0M179.1,214.4h0M179.1,216.7h0M179.2,214.5h0M179.2,214.0h0M179.3,214.3h0M179.3,216.4h0M179.4,215.2h0M179.4,212.8h0M179.5,216.2h0M179.5,214.9h0M179.6,216.1h0M179.6,216.7h0M179.7,215.8h0M179.7,214.3h0M179.8,214.2h0M179.9,216.4h0M179.9,216.0h0M180.0,216.5h0M180.0,217.8h0M180.1,215.0h0M180.1,214.0h0M180.2,214.1h0M180.2,216.3h0M180.3,214.3h0M180.3,214.6h0M180.4,216.3h0M180.4,215.9h0M180.5,216.4h0M180.5,215.7h0M180.6,214.0h0M180.6,217.1h0M180.7,217.5h0M180.8,215.2h0M180.8,216.2h0M180.9,217.8h0M180.9,217.4h0M181.0,217.3h0M181.0,217.1h0M181.1,216.1h0M181.1,215.4h0M181.2,216.7h0M181.2,216.4h0M181.3,217.5h0M181.3,215.5h0M181.4,215.2h0M181.4,217.1h0M181.5,217.6h0M181.6,214.5h0M181.6,215.8h0M181.7,217.9h0M181.7,217.9h0M181.8,217.4h0M181.8,215.7h0M181.9,217.7h0M181.9,217.4h0M182.0,217.8h0M182.0,216.5h0M182.1,215.5h0M182.1,218.0h0M182.2,217.4h0M182.2,217.3h0M182.3,217.7h0M182.3,218.0h0M182.4,215.9h0M182.5,216.7h0M182.5,215.9h0M182.6,215.0h0M182.6,217.1h0M182.7,216.0h0M182.7,217.1h0M182.8,216.7h0M182.8,216.1h0M182.9,216.7h0M182.9,218.1h0M183.0,214.6h0M183.0,216.1h0M183.1,217.6h0M183.1,218.1h0M183.2,216.2h0M183.3,215.3h0M183.3,214.9h0M183.4,214.7h0M183.4,216.4h0M183.5,215.2h0M183.5,217.7h0M183.6,215.6h0M183.6,214.7h0M183.7,216.5h0M183.7,215.9h0M183.8,215.5h0M183.8,215.4h0M183.9,213.7h0M183.9,216.8h0M184.0,213.8h0M184.1,216.9h0M184.1,216.2h0M184.2,216.2h0M184.2,215.3h0M184.3,215.8h0M184.3,214.5h0M184.4,215.1h0M184.4,212.7h0M184.5,214.5h0M184.5,215.3h0M184.6,214.4h0M184.6,214.1h0M184.7,215.0h0M184.7,216.1h0M184.8,215.7h0M184.8,214.4h0M184.9,213.5h0M185.0,213.9h0M185.0,214.6h0M185.1,213.7h0M185.1,215.0h0M185.2,214.0h0M185.2,212.7h0M185.3,212.8h0M185.3,212.7h0M185.4,214.6h0M185.4,213.8h0M185.5,215.3h0M185.5,212.8h0M185.6,214.5h0M185.6,215.5h0M185.7,214.4h0M185.8,213.4h0M185.8,216.5h0M185.9,215.5h0M185.9,212.7h0M186.0,213.4h0M186.0,213.6h0M186.1,215.7h0M186.1,212.7h0M186.2,212.7h0M186.2,212.9h0M186.3,215.3h0M186.3,213.2h0M186.4,212.7h0M186.4,214.5h0M186.5,214.5h0M186.5,214.8h0M186.6,213.5h0M186.7,214.6h0M186.7,214.8h0M186.8,216.4h0M186.8,216.7h0M186.9,213.4h0M186.9,212.7h0M187.0,213.6h0M187.0,212.9h0M187.1,215.6h0M187.1,215.0h0M187.2,214.5h0M187.2,215.3h0M187.3,212.9h0M187.3,217.0h0M187.4,216.1h0M187.5,215.8h0M187.5,216.4h0M187.6,214.4h0M187.6,218.3h0M187.7,214.1h0M187.7,214.5h0M187.8,215.4h0M187.8,214.0h0M187.9,212.8h0M187.9,215.8h0M188.0,215.1h0M188.0,215.6h0M188.1,215.4h0M188.1,216.9h0M188.2,217.2h0M188.2,215.4h0M188.3,216.9h0M188.4,215.0h0M188.4,215.2h0M188.5,216.9h0M188.5,215.8h0M188.6,216.2h0M188.6,216.5h0M188.7,214.8h0M188.7,216.3h0M188.8,216.1h0M188.8,218.9h0M188.9,215.6h0M188.9,218.5h0M189.0,217.0h0M189.0,214.3h0M189.1,214.0h0M189.2,217.1h0M189.2,218.3h0M189.3,216.0h0M189.3,217.2h0M189.4,216.1h0M189.4,218.5h0M189.5,215.1h0M189.5,214.5h0M189.6,218.7h0M189.6,217.8h0M189.7,217.7h0M189.7,215.7h0M189.8,219.0h0M189.8,216.5h0M189.9,217.1h0M189.9,218.0h0M190.0,215.9h0M190.1,219.1h0M190.1,218.8h0M190.2,218.0h0M190.2,215.9h0M190.3,217.4h0M190.3,218.1h0M190.4,216.3h0M190.4,217.6h0M190.5,217.9h0M190.5,217.4h0M190.6,216.5h0M190.6,213.1h0M190.7,218.6h0M190.7,216.6h0M190.8,217.2h0M190.9,217.4h0M190.9,214.8h0M191.0,215.9h0M191.0,216.1h0M191.1,217.7h0M191.1,218.3h0M191.2,216.7h0M191.2,217.5h0M191.3,217.9h0M191.3,216.1h0M191.4,218.9h0M191.4,218.2h0M191.5,216.0h0M191.5,217.3h0M191.6,216.2h0M191.7,218.4h0M191.7,216.1h0M191.8,218.2h0M191.8,215.2h0M191.9,216.0h0M191.9,216.5h0M192.0,214.9h0M192.0,216.7h0M192.1,218.1h0M192.1,214.9h0M192.2,216.7h0M192.2,215.4h0M192.3,216.9h0M192.3,215.4h0M192.4,218.4h0M192.4,219.0h0M192.5,219.2h0M192.6,216.0h0M192.6,219.1h0M192.7,219.1h0M192.7,219.1h0M192.8,216.7h0M192.8,216.4h0M192.9,218.3h0M192.9,215.8h0M193.0,216.5h0M193.0,215.2h0M193.1,215.6h0M193.1,218.0h0M193.2,216.7h0M193.2,217.2h0M193.3,216.2h0M193.4,216.6h0M193.4,216.9h0M193.5,215.8h0M193.5,216.8h0M193.6,215.8h0M193.6,216.8h0M193.7,217.1h0M193.7,215.4h0M193.8,215.4h0M193.8,214.9h0M193.9,215.8h0M193.9,217.1h0M194.0,216.5h0M194.0,216.5h0M194.1,219.0h0M194.1,218.4h0M194.2,214.3h0M194.3,216.7h0M194.3,219.0h0M194.4,216.7h0M194.4,216.2h0M194.5,218.3h0M194.5,212.8h0M194.6,214.6h0M194.6,215.0h0M194.7,216.6h0M194.7,215.5h0M194.8,214.9h0M194.8,215.4h0M194.9,217.2h0M194.9,215.8h0M195.0,215.8h0M195.1,215.5h0M195.1,217.6h0M195.2,215.5h0M195.2,215.9h0M195.3,215.5h0M195.3,215.5h0M195.4,218.0h0M195.4,214.4h0M195.5,214.5h0M195.5,217.8h0M195.6,215.7h0M195.6,216.9h0M195.7,216.2h0M195.7,213.9h0M195.8,214.6h0M195.8,212.2h0M195.9,215.2h0M196.0,217.1h0M196.0,215.1h0M196.1,218.6h0M196.1,212.4h0M196.2,214.9h0M196.2,214.6h0M196.3,215.1h0M196.3,216.8h0M196.4,215.6h0M196.4,216.7h0M196.5,216.3h0M196.5,214.9h0M196.6,217.4h0M196.6,212.8h0M196.7,217.3h0M196.8,214.2h0M196.8,216.6h0M196.9,217.6h0M196.9,215.0h0M197.0,215.4h0M197.0,216.0h0M197.1,215.8h0M197.1,216.7h0M197.2,215.0h0M197.2,216.5h0M197.3,215.7h0M197.3,214.0h0M197.4,217.9h0M197.4,216.7h0M197.5,216.9h0M197.6,217.1h0M197.6,218.0h0M197.7,216.3h0M197.7,215.6h0M197.8,216.0h0M197.8,217.9h0M197.9,214.8h0M197.9,214.8h0M198.0,215.8h0M198.0,217.4h0M198.1,217.1h0M198.1,212.5h0M198.2,212.7h0M198.2,214.6h0M198.3,216.6h0M198.3,213.1h0M198.4,214.7h0M198.5,212.2h0M198.5,215.6h0M198.6,213.8h0M198.6,214.8h0M198.7,213.1h0M198.7,215.2h0M198.8,212.6h0M198.8,214.5h0M198.9,215.2h0M198.9,212.8h0M199.0,213.2h0M199.0,216.7h0M199.1,213.3h0M199.1,213.0h0M199.2,212.7h0M199.3,210.1h0M199.3,213.8h0M199.4,212.7h0M199.4,215.1h0M199.5,214.6h0M199.5,213.1h0M199.6,212.3h0M199.6,212.3h0M199.7,210.9h0M199.7,210.6h0M199.8,210.1h0M199.8,211.7h0M199.9,210.6h0M199.9,212.3h0M200.0,210.6h0M200.0,210.4h0M200.1,211.9h0M200.2,216.0h0M200.2,212.2h0M200.3,209.6h0M200.3,211.5h0M200.4,212.3h0M200.4,211.2h0M200.5,209.7h0M200.5,210.9h0M200.6,211.8h0M200.6,213.4h0M200.7,212.0h0M200.7,213.3h0M200.8,211.1h0M200.8,209.4h0M200.9,210.1h0M201.0,212.5h0M201.0,213.1h0M201.1,213.8h0M201.1,211.1h0M201.2,211.0h0M201.2,210.7h0M201.3,211.3h0M201.3,213.6h0M201.4,214.7h0M201.4,210.3h0M201.5,213.2h0M201.5,209.2h0M201.6,215.0h0M201.6,213.6h0M201.7,213.4h0M201.7,211.7h0M201.8,211.1h0M201.9,212.9h0M201.9,211.3h0M202.0,214.0h0M202.0,212.9h0M202.1,213.8h0M202.1,212.8h0M202.2,212.9h0M202.2,211.5h0M202.3,208.4h0M202.3,213.8h0M202.4,212.0h0M202.4,210.7h0M202.5,211.5h0M202.5,209.6h0M202.6,213.0h0M202.7,210.4h0M202.7,212.5h0M202.8,210.2h0M202.8,211.1h0M202.9,210.9h0M202.9,212.0h0M203.0,213.7h0M203.0,212.6h0M203.1,210.0h0M203.1,211.3h0M203.2,209.9h0M203.2,212.7h0M203.3,209.9h0M203.3,209.3h0M203.4,213.7h0M203.5,210.2h0M203.5,207.9h0M203.6,211.5h0M203.6,209.0h0M203.7,210.3h0M203.7,209.1h0M203.8,210.8h0M203.8,211.2h0M203.9,210.7h0M203.9,210.5h0M204.0,210.8h0M204.0,211.1h0M204.1,208.3h0M204.1,210.5h0M204.2,211.2h0M204.2,210.8h0M204.3,208.8h0M204.4,212.3h0M204.4,208.6h0M204.5,208.2h0M204.5,207.4h0M204.6,209.5h0M204.6,210.0h0M204.7,208.5h0M204.7,208.5h0M204.8,206.9h0M204.8,208.4h0M204.9,209.0h0M204.9,210.1h0M205.0,208.5h0M205.0,208.0h0M205.1,206.5h0M205.2,207.8h0M205.2,206.1h0M205.3,206.1h0M205.3,208.6h0M205.4,209.0h0M205.4,208.3h0M205.5,207.7h0M205.5,208.3h0M205.6,206.3h0M205.6,206.2h0M205.7,205.5h0M205.7,206.6h0M205.8,207.4h0M205.8,206.2h0M205.9,207.8h0M205.9,206.3h0M206.0,207.4h0M206.1,205.2h0M206.1,209.6h0M206.2,205.2h0M206.2,205.1h0M206.3,206.2h0M206.3,205.7h0M206.4,205.8h0M206.4,204.9h0M206.5,204.8h0M206.5,205.9h0M206.6,204.7h0M206.6,206.5h0M206.7,205.2h0M206.7,205.1h0M206.8,207.1h0M206.9,205.1h0M206.9,206.2h0M207.0,204.5h0M207.0,206.4h0M207.1,207.3h0M207.1,206.7h0M207.2,205.1h0M207.2,204.8h0M207.3,204.7h0M207.3,205.8h0M207.4,204.0h0M207.4,205.5h0M207.5,205.0h0M207.5,203.7h0M207.6,204.9h0M207.6,206.7h0M207.7,203.8h0M207.8,204.5h0M207.8,204.8h0M207.9,203.4h0M207.9,205.0h0M208.0,203.5h0M208.0,204.0h0M208.1,203.1h0M208.1,206.1h0M208.2,203.9h0M208.2,203.7h0M208.3,202.9h0M208.3,204.5h0M208.4,204.7h0M208.4,202.7h0M208.5,204.4h0M208.6,203.7h0M208.6,204.0h0M208.7,203.5h0M208.7,205.3h0M208.8,204.4h0M208.8,203.9h0M208.9,203.7h0M208.9,202.7h0M209.0,203.3h0M209.0,203.2h0M209.1,203.8h0M209.1,202.4h0M209.2,204.2h0M209.2,203.7h0M209.3,205.0h0M209.4,204.6h0M209.4,202.7h0M209.5,203.5h0M209.5,205.2h0M209.6,203.5h0M209.6,203.6h0M209.7,204.4h0M209.7,203.0h0M209.8,203.5h0M209.8,203.2h0M209.9,202.3h0M209.9,203.7h0M210.0,202.1h0M210.0,203.3h0M210.1,203.2h0M210.1,201.7h0M210.2,202.4h0M210.3,203.0h0M210.3,202.7h0M210.4,202.3h0M210.4,203.7h0M210.5,201.7h0M210.5,202.2h0M210.6,203.3h0M210.6,202.9h0M210.7,201.2h0M210.7,202.9h0M210.8,199.9h0M210.8,202.6h0M210.9,201.4h0M210.9,203.4h0M211.0,201.5h0M211.1,201.7h0M211.1,200.8h0M211.2,201.0h0M211.2,201.3h0M211.3,199.2h0M211.3,200.2h0M211.4,201.3h0M211.4,200.4h0M211.5,202.5h0M211.5,200.9h0M211.6,199.4h0M211.6,200.7h0M211.7,200.1h0M211.7,201.0h0M211.8,199.4h0M211.8,199.8h0M211.9,199.8h0M212.0,199.0h0M212.0,198.4h0M212.1,198.9h0M212.1,200.8h0M212.2,199.0h0M212.2,199.1h0M212.3,200.0h0M212.3,200.3h0M212.4,199.3h0M212.4,199.1h0M212.5,198.8h0M212.5,199.2h0M212.6,198.5h0M212.6,198.3h0M212.7,198.6h0M212.8,198.0h0M212.8,198.6h0M212.9,199.3h0M212.9,198.0h0M213.0,197.3h0M213.0,196.5h0M213.1,199.3h0M213.1,198.0h0M213.2,198.2h0M213.2,197.2h0M213.3,198.0h0M213.3,197.1h0M213.4,196.4h0M213.4,197.6h0M213.5,197.0h0M213.5,195.7h0M213.6,196.1h0M213.7,197.7h0M213.7,195.4h0M213.8,196.9h0M213.8,196.1h0M213.9,196.5h0M213.9,196.4h0M214.0,196.5h0M214.0,195.5h0M214.1,196.4h0M214.1,196.6h0M214.2,196.1h0M214.2,195.6h0M214.3,196.8h0M214.3,194.9h0M214.4,195.8h0M214.5,194.8h0M214.5,194.3h0M214.6,194.9h0M214.6,194.7h0M214.7,195.2h0M214.7,195.3h0M214.8,196.0h0M214.8,194.8h0M214.9,194.9h0M214.9,196.0h0M215.0,194.2h0M215.0,193.3h0M215.1,194.0h0M215.1,193.4h0M215.2,194.2h0M215.2,194.6h0M215.3,193.8h0M215.4,194.0h0M215.4,194.4h0M215.5,192.9h0M215.5,193.4h0M215.6,193.8h0M215.6,193.2h0M215.7,193.3h0M215.7,192.7h0M215.8,192.0h0M215.8,193.3h0M215.9,193.5h0M215.9,191.9h0M216.0,191.2h0M216.0,192.9h0M216.1,193.0h0M216.2,193.1h0M216.2,192.3h0M216.3,192.1h0M216.3,192.2h0M216.4,191.5h0M216.4,192.4h0M216.5,192.1h0M216.5,192.4h0M216.6,190.8h0M216.6,190.9h0M216.7,190.7h0M216.7,191.8h0M216.8,190.5h0M216.8,191.0h0M216.9,190.7h0M217.0,190.6h0M217.0,191.0h0M217.1,190.9h0M217.1,191.3h0M217.2,190.9h0M217.2,190.6h0M217.3,191.0h0M217.3,190.2h0M217.4,189.5h0M217.4,190.3h0M217.5,190.5h0M217.5,190.3h0M217.6,189.7h0M217.6,188.8h0M217.7,189.5h0M217.7,189.4h0M217.8,189.7h0M217.9,189.1h0M217.9,188.8h0M218.0,189.2h0M218.0,188.9h0M218.1,189.1h0M218.1,188.2h0M218.2,187.8h0M218.2,188.1h0M218.3,187.9h0M218.3,188.0h0M218.4,188.1h0M218.4,188.1h0M218.5,187.7h0M218.5,187.3h0M218.6,187.2h0M218.7,186.6h0M218.7,186.6h0M218.8,186.1h0M218.8,186.2h0M218.9,186.6h0M218.9,186.2h0M219.0,186.9h0M219.0,185.2h0M219.1,186.1h0M219.1,185.9h0M219.2,184.7h0M219.2,185.8h0M219.3,185.5h0M219.3,185.1h0M219.4,185.1h0M219.4,184.7h0M219.5,184.5h0M219.6,184.2h0M219.6,184.3h0M219.7,183.8h0M219.7,184.1h0M219.8,183.5h0M219.8,183.2h0M219.9,184.2h0M219.9,183.4h0M220.0,183.1h0M220.0,183.8h0M220.1,184.1h0M220.1,182.7h0M220.2,182.9h0M220.2,182.2h0M220.3,182.4h0M220.4,182.2h0M220.4,182.2h0M220.5,181.9h0M220.5,182.2h0M220.6,181.9h0M220.6,181.3h0M220.7,181.5h0M220.7,181.1h0M220.8,181.2h0M220.8,181.2h0M220.9,181.3h0M220.9,180.4h0M221.0,180.9h0M221.0,180.3h0M221.1,180.9h0M221.1,180.1h0M221.2,179.9h0M221.3,180.2h0M221.3,180.4h0M221.4,179.7h0M221.4,179.5h0M221.5,179.6h0M221.5,179.5h0M221.6,178.8h0M221.6,179.0h0M221.7,179.0h0M221.7,178.4h0M221.8,178.6h0M221.8,178.7h0M221.9,178.0h0M221.9,178.3h0M222.0,177.7h0M75.0,260.3h0M76.0,258.9h0M237.9,137.3h0M236.5,140.7h0M240.1,132.9h0M226.3,166.7h0M224.8,170.7h0M231.0,156.2h0M237.5,139.2h0M213.9,199.7h0M215.5,191.4h0M222.1,178.9h0M222.6,175.1h0M230.5,157.3h0M228.5,158.5h0M220.8,179.7h0M235.6,143.0h0M218.0,186.5h0M234.7,146.6h0M204.2,209.5h0M228.7,161.2h0M241.7,128.2h0M224.5,171.3h0M232.5,150.3h0M222.1,177.6h0M206.6,207.6h0M223.3,177.4h0M236.7,140.8h0M230.0,158.4h0M218.2,189.3h0M238.8,135.7h0M240.6,131.1h0M223.0,178.6h0M226.8,166.9h0M203.9,209.2h0M223.6,172.9h0M231.7,153.2h0M234.5,147.8h0M207.2,207.3h0M237.9,137.3h0M213.0,201.4h0M205.9,209.4h0M226.9,163.7h0M219.8,185.3h0M204.4,208.8h0M235.4,144.2h0M214.5,195.7h0M220.7,185.6h0M204.5,209.0h0M212.7,200.4h0M209.5,200.6h0M221.2,176.6h0M212.9,198.4h0M224.3,171.8h0M221.5,178.0h0M212.6,199.7h0M240.9,130.6h0M227.1,167.1h0M236.9,141.5h0M231.9,151.3h0M210.5,204.3h0M206.5,206.7h0M221.6,179.4h0M207.1,204.8h0M234.6,146.5h0M224.6,173.3h0M229.2,160.0h0M230.8,155.5h0M232.8,151.7h0M210.6,200.5h0M224.1,169.8h0M226.0,167.9h0M215.6,190.8h0M224.3,172.5h0M227.5,163.3h0M220.1,182.1h0M227.6,162.0h0M224.9,170.8h0M222.0,176.2h0M239.1,136.5h0M238.6,135.6h0M225.6,167.1h0M205.8,210.3h0M228.4,161.0h0M217.9,189.8h0M220.3,186.1h0M237.4,139.1h0M230.6,159.3h0M224.9,172.1h0M229.9,161.0h0M216.3,191.1h0M240.0,132.2h0M208.9,203.9h0M230.0,158.4h0M230.4,156.6h0M239.8,133.4h0M222.9,172.0h0M231.6,153.8h0M235.6,143.7h0M224.7,170.7h0M238.3,136.2h0M215.8,192.2h0M226.2,164.7h0M217.5,193.1h0M241.3,129.4h0M218.0,191.2h0M228.3,161.6h0M233.3,149.3h0M218.0,190.5h0M220.8,180.3h0M237.9,137.3h0M229.5,158.2h0M241.6,128.8h0M216.6,187.2h0M240.6,131.1h0M236.8,139.5h0M213.1,196.4h0M233.3,149.3h0M204.8,207.6h0M214.6,191.7h0M226.6,166.2h0M237.0,140.3h0M210.9,200.0h0M215.6,192.8h0M218.6,188.1h0M215.9,188.9h0M210.2,202.5h0M238.2,136.1h0M219.5,184.5h0M216.7,191.3h0M233.3,148.0h0M234.0,147.0h0M205.2,207.9h0M238.6,136.3h0M220.2,182.8h0M214.6,193.7h0M232.5,152.9h0M219.7,181.3h0M230.4,154.0h0M217.4,190.3h0M231.2,155.0h0M226.8,168.2h0M225.3,170.3h0M231.4,154.4h0M218.2,190.6h0M222.0,177.5h0M217.4,191.7h0M235.1,145.4h0M208.4,202.8h0M237.8,138.0h0M231.6,154.5h0M231.3,154.4h0M221.0,180.4h0M207.1,205.6h0M208.8,203.8h0M222.0,177.5h0M239.8,134.1h0M223.7,172.9h0M220.3,186.8h0M239.4,132.6h0M224.3,175.1h0M210.9,200.7h0M241.7,129.5h0M221.7,178.1h0M225.5,172.3h0M226.4,168.1h0M208.6,206.0h0M230.6,157.3h0M225.4,165.7h0M214.4,192.9h0M213.4,196.5h0M209.8,203.7h0M234.3,147.1h0M206.3,207.4h0M241.5,128.8h0M239.5,133.4h0M234.9,144.7h0M220.9,179.1h0M239.3,133.9h0M228.7,161.8h0M225.4,171.0h0M226.5,165.5h0M226.1,169.3h0M224.1,171.1h0M226.5,170.1h0M222.7,174.5h0M221.8,178.8h0M226.7,164.9h0M209.8,200.8h0M204.3,208.8h0M230.8,158.1h0M233.3,150.6h0M218.1,187.2h0M231.0,158.1h0M222.7,179.8h0M220.1,178.8h0M214.6,196.5h0M234.6,145.9h0M231.5,154.4h0M203.2,211.1h0M225.6,166.5h0M214.7,198.0h0M236.4,142.0h0M219.6,181.2h0M237.5,138.5h0M220.4,181.5h0M227.0,164.4h0M227.7,162.7h0M215.5,191.4h0M226.8,164.3h0M238.4,136.2h0M231.2,153.7h0M239.4,133.3h0M205.8,209.3h0M229.6,156.9h0M216.0,191.7h0M240.2,131.0h0M233.2,147.9h0M238.9,134.4h0M241.3,129.4h0M221.2,181.9h0M215.0,196.7h0M214.4,195.7h0M216.4,193.9h0M235.0,144.1h0M226.3,167.4h0M209.5,204.3h0M213.8,196.8h0M221.2,184.5h0M218.5,184.1h0M211.2,201.7h0M241.9,129.0h0M233.3,148.0h0M210.7,203.7h0M236.3,140.6h0M232.0,152.7h0M208.3,205.8h0M208.2,204.2h0M222.4,181.6h0M224.5,171.3h0M204.3,209.7h0M223.1,179.3h0M217.9,186.5h0M216.9,190.1h0M223.2,174.0h0M206.2,208.9h0M216.3,195.3h0M239.1,134.5h0M235.5,143.6h0M225.4,167.7h0M232.5,151.6h0M221.6,182.0h0M220.4,182.2h0M237.5,139.1h0M222.3,180.9h0M233.4,148.0h0M206.2,208.0h0M230.9,155.5h0M222.1,177.6h0M219.2,185.7h0M216.2,195.2h0M211.2,198.8h0M228.5,163.7h0M220.7,177.0h0M203.0,210.9h0M236.7,141.5h0M231.8,155.9h0M212.3,201.7h0M240.2,132.9h0M241.1,130.0h0M239.0,136.4h0M204.4,208.9h0M225.3,169.0h0M218.8,185.5h0M227.5,162.6h0M225.1,173.5h0M218.2,186.6h0M234.0,148.9h0M219.9,179.3h0M223.7,169.6h0M222.6,179.7h0M222.4,181.0h0M211.1,200.2h0M211.9,199.9h0M205.5,209.1h0M234.4,147.1h0M227.2,162.5h0M230.8,156.8h0M220.7,179.0h0M231.4,155.7h0M226.0,164.7h0M229.1,158.1h0M241.2,129.4h0M219.1,184.3h0M220.9,179.7h0M228.4,160.4h0M217.3,191.6h0M208.9,204.7h0M234.4,144.5h0M235.6,141.7h0M206.8,208.6h0M205.7,207.6h0M227.0,165.0h0M236.2,142.6h0M234.5,148.5h0M225.1,172.8h0M214.8,195.9h0M215.2,197.6h0M227.5,166.5h0M237.1,140.3h0M238.9,135.1h0M227.5,162.0h0M206.1,208.0h0M218.3,186.6h0M233.5,148.0h0M228.0,165.5h0M224.3,170.5h0M205.4,209.9h0M205.6,209.2h0M224.8,168.8h0M223.7,173.6h0M216.3,192.5h0M212.0,196.5h0M211.7,197.0h0M241.4,128.1h0M213.3,200.8h0M231.0,154.3h0M237.7,137.3h0M225.3,167.6h0M225.4,167.7h0M224.9,172.7h0M212.3,201.7h0M235.5,144.3h0M236.4,142.7h0M240.5,131.1h0M204.8,209.2h0M212.6,196.8h0M220.5,177.6h0M212.0,197.2h0M234.0,147.6h0M237.9,138.0h0M235.7,143.0h0M233.9,147.6h0M217.2,193.6h0M240.6,131.1h0M225.4,171.6h0M219.7,181.9h0M232.6,150.9h0M210.2,205.6h0M241.4,129.5h0M212.2,197.3h0M228.4,162.3h0M209.1,202.5h0M212.9,199.8h0M221.3,179.2h0M206.5,208.3h0M221.0,179.8h0M204.3,210.6h0M221.6,181.3h0M241.2,129.4h0M211.6,203.5h0M223.8,178.2h0M228.4,159.7h0M226.4,167.4h0M218.7,187.5h0M219.2,188.4h0M236.9,140.2h0M204.6,209.9h0M235.5,145.6h0M227.9,162.1h0M222.5,177.7h0M223.5,173.5h0M208.8,205.4h0M222.5,177.1h0M219.5,188.5h0M223.2,175.4h0M213.3,195.8h0M239.0,133.8h0M233.0,149.8h0M226.9,166.3h0M239.3,135.9h0M228.9,160.6h0M239.2,135.8h0M232.5,152.2h0M237.3,140.4h0M234.6,146.5h0M224.0,172.4h0M213.4,198.0h0M237.5,139.8h0M241.6,127.5h0M209.9,202.3h0M227.1,163.1h0M208.8,204.6h0M215.3,192.0h0M240.7,131.2h0M206.1,208.0h0M235.9,142.5h0M211.6,199.8h0M231.5,153.8h0M226.7,166.2h0M230.2,157.2h0M230.1,159.8h0M212.7,197.6h0M221.5,178.6h0M218.7,188.2h0M225.8,168.5h0M239.6,133.4h0M237.9,138.7h0M220.2,180.1h0M239.6,134.0h0M238.2,138.1h0M219.4,182.4h0M228.2,159.7h0M231.7,155.2h0M210.8,201.5h0M233.0,151.8h0M224.8,167.5h0M232.5,151.6h0M235.6,143.6h0M239.0,135.1h0M237.1,139.7h0M235.4,144.2h0M225.7,165.2h0M220.9,179.7h0M241.5,129.5h0M222.9,180.5h0M225.9,166.6h0M230.0,158.4h0M212.0,198.6h0M227.5,162.0h0M229.7,158.9h0M240.1,131.6h0M222.4,176.4h0M216.5,192.6h0M219.5,183.8h0M237.2,141.0h0M239.4,134.0h0M202.7,209.6h0M231.6,152.5h0M230.4,158.6h0M210.4,200.5h0M241.7,127.6h0M216.8,191.4h0M204.6,209.1h0M231.5,154.4h0M208.1,204.9h0M238.3,136.2h0M224.8,174.0h0M225.1,170.2h0M229.6,159.6h0M225.2,173.5h0M213.6,197.3h0M219.9,184.0h0M215.3,196.2h0M208.8,205.4h0M217.0,194.2h0M218.7,184.8h0M231.8,152.6h0M210.7,202.1h0M204.8,207.6h0M219.1,187.0h0M206.3,206.6h0M218.4,187.4h0M239.3,135.9h0M239.6,134.0h0M203.7,209.0h0M211.6,203.5h0M235.6,143.0h0M233.4,150.0h0M226.9,163.1h0M214.7,193.8h0M228.7,164.4h0M226.6,166.8h0M206.4,205.8h0M220.1,180.1h0M224.1,173.7h0M218.8,186.8h0M240.9,129.2h0M237.8,137.3h0M241.5,128.1h0M231.1,156.9h0M215.5,191.4h0M228.2,164.2h0M220.3,184.1h0M223.7,175.5h0M231.0,153.6h0M224.2,170.5h0M229.4,161.4h0M237.1,141.0h0M221.7,178.7h0M224.7,170.0h0M203.5,208.7h0M212.5,197.5h0M234.1,148.3h0M206.6,208.4h0M207.1,207.2h0M224.9,170.7h0M231.2,155.6h0M229.4,158.2h0M232.3,150.2h0M233.7,148.1h0M228.7,159.9h0M220.6,181.6h0M221.7,180.1h0M224.6,171.3h0M220.7,181.0h0M221.5,179.3h0M219.6,180.6h0M219.9,182.0h0M205.4,209.9h0M241.8,128.3h0M213.3,197.9h0M226.4,163.5h0M238.0,139.3h0M227.3,167.1h0M227.5,167.2h0M242.1,127.7h0M212.4,199.5h0M235.4,143.6h0M209.5,205.1h0M235.4,144.9h0M228.4,161.7h0" fill="none" stroke="#ed1c24" stroke-width="2.6" stroke-linecap="round"/>
<path d="M197.57,214.88 L198.11,214.57 L198.65,214.25 L199.17,213.92 L199.69,213.58 L200.20,213.23 L200.70,212.88 L201.19,212.51 L201.67,212.14 L202.15,211.75 L202.62,211.36 L203.08,210.96 L203.53,210.56 L203.98,210.14 L204.42,209.72 L204.85,209.29 L205.27,208.85 L205.69,208.41 L206.10,207.96 L206.51,207.50 L206.91,207.04 L207.30,206.57 L207.69,206.09 L208.07,205.61 L208.45,205.13 L208.82,204.64 L209.18,204.14 L209.54,203.64 L209.90,203.14 L210.25,202.63 L210.60,202.12 L210.94,201.60 L211.28,201.08 L211.61,200.55 L211.94,200.03 L212.26,199.50 L212.58,198.96 L212.90,198.43 L213.22,197.89 L213.53,197.35 L213.83,196.81 L214.14,196.26 L214.44,195.72 L214.74,195.17 L215.04,194.62 L215.33,194.08 L215.62,193.53 L215.91,192.98 L216.20,192.43 L216.48,191.87 L216.77,191.32 L217.05,190.77 L217.33,190.22 L217.61,189.66 L217.88,189.11 L218.15,188.55 L218.43,188.00 L218.69,187.44 L218.96,186.89 L219.23,186.33 L219.49,185.77 L219.75,185.21 L220.02,184.65 L220.27,184.09 L220.53,183.53 L220.79,182.97 L221.04,182.41 L221.29,181.85 L221.55,181.29 L221.79,180.73 L222.04,180.16 L222.29,179.60 L222.53,179.04 L222.78,178.47 L223.02,177.91 L223.26,177.34 L223.50,176.78 L223.74,176.21 L223.98,175.64 L224.22,175.08 L224.45,174.51 L224.68,173.94 L224.92,173.37 L225.15,172.80 L225.38,172.23 L225.61,171.66 L225.84,171.09 L226.07,170.52 L226.30,169.95 L226.52,169.38 L226.75,168.81 L226.97,168.24 L227.20,167.66 L227.42,167.09 L227.64,166.52 L227.86,165.95 L228.09,165.37 L228.31,164.80 L228.53,164.22 L228.75,163.65 L228.97,163.07 L229.19,162.50 L229.40,161.92 L229.62,161.35 L229.84,160.77 L230.06,160.19 L230.27,159.62 L230.49,159.04 L230.71,158.46 L230.92,157.88 L231.14,157.31 L231.35,156.73 L231.57,156.15 L231.79,155.57 L232.00,154.99 L232.22,154.41 L232.43,153.84 L232.65,153.26 L232.86,152.68 L233.08,152.10 L233.30,151.52 L233.51,150.94 L233.73,150.36 L233.94,149.78 L234.16,149.20 L234.38,148.62 L234.59,148.04 L234.81,147.46 L235.03,146.88 L235.24,146.30 L235.46,145.72 L235.68,145.14 L235.90,144.56 L236.12,143.99 L236.34,143.41 L236.56,142.83 L236.78,142.25 L237.00,141.67 L237.22,141.09 L237.44,140.52 L237.67,139.94 L237.89,139.36 L238.11,138.78 L238.34,138.21 L238.56,137.63 L238.79,137.05 L239.02,136.48 L239.25,135.90 L239.47,135.33 L239.70,134.75 L239.93,134.18 L240.17,133.61 L240.40,133.03 L240.63,132.46 L240.86,131.89 L241.10,131.32 L241.34,130.75 L241.57,130.17 L241.81,129.60 L242.05,129.04 L242.29,128.47 L242.53,127.90 L242.77,127.33 L243.02,126.76 L243.26,126.20 L243.51,125.63 L243.76,125.07 L244.01,124.50 L244.26,123.94 L244.51,123.38 L244.76,122.81 L245.01,122.25 L245.27,121.69 L245.52,121.13 L245.77,120.57 L246.02,120.01 L246.28,119.44 L246.53,118.88 L246.78,118.32 L247.02,117.76 L247.27,117.19 L247.51,116.63 L247.75,116.06 L247.99,115.49 L248.22,114.92 L248.45,114.35 L248.68,113.78 L248.90,113.21 L249.12,112.63 L249.33,112.06 L249.54,111.48 L249.75,110.90 L249.96,110.32 L250.17,109.74 L250.38,109.16 L250.59,108.58 L250.80,108.01 L251.02,107.43 L251.24,106.85 L251.46,106.28 L251.69,105.71 L251.93,105.14 L252.17,104.58 L252.42,104.02 L252.68,103.46 L252.94,102.91 L253.21,102.35 L253.49,101.80 L253.77,101.26 L254.06,100.72 L254.36,100.18 L254.66,99.64 L254.97,99.11 L255.29,98.57 L255.61,98.05 L255.93,97.52 L256.26,97.00 L256.60,96.48 L256.94,95.96 L257.28,95.44 L257.63,94.93 L257.98,94.42 L258.34,93.91 L258.70,93.40 L259.06,92.90 L259.43,92.40 L259.80,91.90 L260.17,91.40 L260.55,90.90 L260.92,90.41 L261.30,89.92 L261.68,89.43 L262.07,88.94 L262.45,88.45 L262.84,87.97 L263.22,87.48 L263.61,87.00 L264.00,86.52 L264.39,86.04 L264.78,85.56 L265.17,85.09 L265.56,84.61 L265.95,84.14 L266.35,83.67 L266.75,83.21 L267.15,82.75 L267.56,82.29 L267.98,81.85 L268.40,81.40 L268.83,80.97 L269.27,80.54 L269.72,80.12 L270.17,79.71 L270.64,79.31 L271.12,78.92 L271.61,78.54 L272.11,78.18 L272.63,77.82 L273.15,77.48 L273.68,77.15 L274.22,76.83 L274.77,76.53 L275.32,76.24 L275.89,75.97 L276.46,75.71 L277.04,75.47 L277.62,75.25 L278.21,75.05 L278.80,74.86 L279.40,74.69 L280.00,74.55 L280.60,74.42 L281.21,74.31 L281.82,74.23 L282.43,74.16 L283.05,74.12 L283.66,74.11 L284.28,74.11 L284.89,74.14 L285.51,74.18 L286.13,74.25 L286.75,74.33 L287.37,74.42 L287.99,74.52 L288.61,74.64 L289.23,74.76 L289.85,74.89 L290.47,75.02 L291.09,75.16 L291.71,75.30 L292.34,75.43 L292.96,75.56 L293.59,75.69 L294.21,75.81 L294.84,75.93 L295.46,76.03 L296.09,76.12 L296.71,76.19 L297.32,76.24 L297.93,76.27 L298.53,76.26 L299.12,76.23 L299.69,76.15 L300.25,76.04 L300.78,75.88 L301.30,75.69 L301.81,75.45 L302.30,75.18 L302.77,74.88 L303.23,74.55 L303.67,74.18 L304.10,73.79 L304.51,73.37 L304.91,72.93 L305.29,72.47 L305.67,71.99 L306.03,71.49 L306.37,70.97 L306.71,70.45 L307.03,69.91 L307.35,69.36 L307.65,68.81 L307.95,68.25 L308.23,67.68 L308.50,67.11 L308.77,66.54 L309.03,65.96 L309.28,65.38 L309.53,64.79 L309.77,64.20 L310.01,63.61 L310.24,63.02 L310.47,62.43 L310.69,61.83 L310.92,61.24 L311.14,60.64 L311.36,60.04 L311.58,59.45 L311.80,58.85 L312.02,58.26 L312.25,57.66 L312.47,57.07 L312.70,56.48 L312.93,55.89 L313.17,55.31 L313.41,54.73 L313.66,54.15 L313.91,53.58 L314.17,53.01 L314.43,52.44 L314.71,51.88 L314.99,51.33 L315.29,50.78 L315.59,50.23 L315.90,49.70 L316.23,49.17 L316.57,48.65 L316.92,48.13 L317.28,47.63 L317.66,47.13 L318.05,46.64 L318.46,46.16 L318.88,45.69 L319.32,45.23 L319.77,44.78 L320.25,44.34 L320.74,43.92 L321.24,43.51 L321.75,43.13 L322.26,42.78 L322.78,42.46 L323.30,42.18 L323.82,41.94 L324.33,41.74 L324.84,41.59 L325.34,41.50 L325.82,41.46 L326.29,41.48 L326.74,41.57 L327.17,41.73 L327.58,41.96 L327.97,42.27 L328.33,42.64 L328.67,43.06 L329.00,43.53 L329.31,44.05 L329.61,44.60 L329.90,45.17 L330.19,45.76 L330.46,46.36 L330.73,46.96 L331.00,47.56 L331.27,48.15 L331.53,48.75 L331.79,49.35 L332.05,49.94 L332.31,50.54 L332.56,51.13 L332.81,51.72 L333.05,52.32" fill="none" stroke="#ed1c24" stroke-width="3.5" stroke-linejoin="round" stroke-linecap="round"/>
<path d="M333.05,52.32 L333.30,52.91 L333.54,53.50 L333.77,54.09 L334.01,54.68 L334.24,55.27 L334.47,55.86 L334.70,56.44 L334.93,57.03 L335.15,57.62 L335.37,58.20 L335.59,58.79 L335.80,59.38 L336.01,59.96 L336.23,60.55 L336.43,61.13 L336.64,61.72 L336.84,62.30 L337.04,62.89 L337.24,63.47 L337.44,64.06 L337.64,64.64 L337.83,65.22 L338.02,65.81 L338.21,66.39 L338.39,66.98 L338.58,67.56 L338.76,68.15 L338.94,68.73 L339.12,69.32 L339.30,69.91 L339.47,70.49 L339.64,71.08 L339.81,71.66 L339.98,72.25 L340.15,72.84 L340.32,73.43 L340.48,74.02 L340.64,74.61 L340.80,75.20 L340.96,75.79 L341.12,76.38 L341.28,76.97 L341.43,77.57 L341.58,78.16 L341.73,78.75 L341.88,79.35 L342.03,79.94 L342.18,80.54 L342.32,81.13 L342.47,81.73 L342.61,82.33 L342.75,82.92 L342.89,83.52 L343.03,84.12 L343.17,84.72 L343.30,85.32 L343.44,85.92 L343.57,86.52 L343.70,87.12 L343.83,87.72 L343.96,88.32 L344.09,88.92 L344.22,89.53 L344.34,90.13 L344.47,90.73 L344.59,91.34 L344.72,91.94 L344.84,92.54 L344.96,93.15 L345.08,93.75 L345.20,94.36 L345.32,94.97 L345.44,95.57 L345.55,96.18 L345.67,96.78 L345.78,97.39 L345.90,98.00 L346.01,98.61 L346.12,99.21 L346.24,99.82 L346.35,100.43 L346.46,101.04 L346.57,101.65 L346.68,102.26 L346.79,102.87 L346.89,103.47 L347.00,104.08 L347.11,104.69 L347.21,105.30 L347.32,105.91 L347.43,106.52 L347.53,107.13 L347.64,107.75 L347.74,108.36 L347.84,108.97 L347.95,109.58 L348.05,110.19 L348.15,110.80 L348.25,111.41 L348.36,112.02 L348.46,112.63 L348.56,113.25 L348.66,113.86 L348.76,114.47 L348.86,115.08 L348.96,115.69 L349.07,116.30 L349.17,116.92 L349.27,117.53 L349.37,118.14 L349.47,118.75 L349.57,119.36 L349.67,119.97 L349.77,120.59 L349.87,121.20 L349.97,121.81 L350.07,122.42 L350.17,123.03 L350.27,123.64 L350.37,124.25 L350.48,124.86 L350.58,125.48 L350.68,126.09 L350.78,126.70 L350.88,127.31 L350.99,127.92 L351.09,128.53 L351.19,129.14 L351.30,129.75 L351.40,130.36 L351.51,130.97 L351.61,131.58 L351.72,132.19 L351.82,132.80 L351.93,133.40 L352.04,134.01 L352.14,134.62 L352.25,135.23 L352.36,135.84 L352.47,136.44 L352.58,137.05 L352.69,137.66 L352.80,138.27 L352.92,138.87 L353.03,139.48 L353.14,140.08 L353.26,140.69 L353.37,141.29 L353.49,141.90 L353.61,142.50 L353.72,143.11 L353.84,143.71 L353.96,144.31 L354.08,144.92 L354.21,145.52 L354.33,146.12 L354.45,146.72 L354.58,147.33 L354.70,147.93 L354.83,148.53 L354.96,149.13 L355.08,149.73 L355.21,150.33 L355.34,150.93 L355.48,151.53 L355.61,152.13 L355.74,152.73 L355.87,153.32 L356.01,153.92 L356.15,154.52 L356.28,155.12 L356.42,155.72 L356.56,156.32 L356.70,156.92 L356.84,157.51 L356.98,158.11 L357.12,158.71 L357.27,159.31 L357.41,159.91 L357.56,160.51 L357.70,161.10 L357.85,161.70 L358.00,162.30 L358.15,162.90 L358.30,163.50 L358.45,164.10 L358.60,164.70 L358.76,165.29 L358.91,165.89 L359.06,166.49 L359.22,167.09 L359.38,167.69 L359.53,168.29 L359.69,168.90 L359.85,169.50 L360.01,170.10 L360.17,170.70 L360.33,171.30 L360.50,171.90 L360.66,172.51" fill="none" stroke="#ed1c24" stroke-width="2.7" stroke-linejoin="round" stroke-linecap="round"/>
<path d="M361.3,179.3h0M361.2,179.9h0M360.9,180.2h0M362.2,181.2h0M362.6,181.7h0M363.0,181.2h0M363.2,183.0h0M363.2,181.9h0M362.5,183.6h0M364.1,185.3h0M364.3,185.8h0M364.0,184.5h0M365.0,187.4h0M364.3,188.4h0M365.4,186.6h0M366.1,189.7h0M365.7,189.0h0M365.8,190.0h0M367.3,191.8h0M367.2,192.5h0M366.5,190.8h0M368.7,193.5h0M369.2,194.2h0M369.0,192.9h0M370.1,194.9h0M370.3,194.0h0M370.1,194.8h0M371.3,196.5h0M370.5,197.1h0M372.1,195.7h0M372.6,198.0h0M373.3,197.0h0M373.0,198.7h0M374.1,199.7h0M374.1,200.4h0M374.9,199.8h0M375.7,201.2h0M375.9,202.1h0M375.3,201.7h0M377.2,201.9h0M377.6,202.3h0M377.5,201.3h0M378.8,202.4h0M379.5,202.7h0M378.5,201.7h0M378.2,204.3h0M378.6,203.2h0M378.3,203.7h0M377.6,201.0h0M378.9,203.3h0M377.4,203.2h0M379.4,202.0h0M380.7,208.5h0M380.2,207.9h0" fill="none" stroke="#ed1c24" stroke-width="2.9" stroke-linecap="round"/>
<path d="M202.34,216.69 L203.07,216.78 L203.81,216.88 L204.55,216.98 L205.29,217.09 L206.02,217.19 L206.76,217.30 L207.50,217.42 L208.24,217.53 L208.97,217.65 L209.71,217.77 L210.45,217.90 L211.19,218.02 L211.92,218.15 L212.66,218.29 L213.40,218.42 L214.14,218.56 L214.88,218.70 L215.61,218.85 L216.35,218.99 L217.09,219.14 L217.83,219.30 L218.56,219.45 L219.30,219.61 L220.04,219.78 L220.78,219.94 L221.51,220.11 L222.25,220.28 L222.99,220.45 L223.73,220.63 L224.46,220.81 L225.20,220.99 L225.94,221.18 L226.68,221.36 L227.41,221.55 L228.15,221.75 L228.89,221.94 L229.63,222.14 L230.37,222.35 L231.10,222.55 L231.84,222.76 L232.58,222.97 L233.32,223.19 L234.05,223.40 L234.79,223.62 L235.53,223.85 L236.27,224.07 L237.00,224.30 L237.74,224.53 L238.48,224.77 L239.22,225.00 L239.95,225.24 L240.69,225.49 L241.43,225.73 L242.17,225.98 L242.90,226.23 L243.64,226.49 L244.38,226.74 L245.12,227.00 L245.85,227.27 L246.59,227.53 L247.33,227.80 L248.07,228.08 L248.81,228.35 L249.54,228.63 L250.28,228.91 L251.02,229.19 L251.76,229.48 L252.49,229.77 L253.23,230.06 L253.97,230.36 L254.71,230.65 L255.44,230.95 L256.18,231.26 L256.92,231.56 L257.66,231.87 L258.39,232.19 L259.13,232.50 L259.87,232.82 L260.61,233.14 L261.34,233.47 L262.08,233.79 L262.82,234.12 L263.56,234.46 L264.30,234.79 L265.03,235.13 L265.77,235.47 L266.51,235.82 L267.25,236.16 L267.98,236.51 L268.72,236.87 L269.46,237.22 L270.20,237.58 L270.93,237.94 L271.67,238.31 L272.41,238.67 L273.15,239.04 L273.88,239.42 L274.62,239.79 L275.36,240.17 L276.10,240.56 L276.83,240.94 L277.57,241.33 L278.31,241.72 L279.05,242.11 L279.78,242.51 L280.52,242.91 L281.26,243.31 L282.00,243.72 L282.74,244.12 L283.47,244.53 L284.21,244.95 L284.95,245.36 L285.69,245.78 L286.42,246.21 L287.16,246.63 L287.90,247.06 L288.64,247.49 L289.37,247.93 L290.11,248.36 L290.85,248.80 L291.59,249.25 L292.32,249.69 L293.06,250.14 L293.80,250.59 L294.54,251.05 L295.27,251.50 L296.01,251.96 L296.75,252.43 L297.49,252.89 L298.23,253.36 L298.96,253.83 L299.70,254.31 L300.44,254.78 L301.18,255.27 L301.91,255.75 L302.65,256.23 L303.39,256.72 L304.13,257.22 L304.86,257.71 L305.60,258.21 L306.34,258.71 L307.08,259.21 L307.81,259.72 L308.55,260.23 L309.29,260.74 L310.03,261.26 L310.76,261.77 L311.50,262.29 L312.24,262.82 L312.98,263.35 L313.71,263.87 L314.45,264.41 L315.19,264.94 L315.93,265.48 L316.67,266.02 L317.40,266.57 L318.14,267.11 L318.88,267.66 L319.62,268.22 L320.35,268.77 L321.09,269.33 L321.83,269.89 L322.57,270.46 L323.30,271.02 L324.04,271.59 L324.78,272.17 L325.52,272.74 L326.25,273.32 L326.99,273.90 L327.73,274.49 L328.47,275.08 L329.20,275.67 L329.94,276.26 L330.68,276.85 L331.42,277.45 L332.16,278.06 L332.89,278.66 L333.63,279.27 L334.37,279.88 L335.11,280.49 L335.84,281.11 L336.58,281.73 L337.32,282.35 L338.06,282.98 L338.79,283.60 L339.53,284.24 L340.27,284.87 L341.01,285.51 L341.74,286.15 L342.48,286.79 L343.22,287.43 L343.96,288.08 L344.69,288.73 L345.43,289.39 L346.17,290.04" stroke="#231f20" stroke-width="1.2" fill="none" stroke-dasharray="6 5"/>
<path d="M223.01,288.06 L223.47,285.03 L223.93,282.01 L224.39,279.02 L224.85,276.05 L225.31,273.10 L225.77,270.17 L226.23,267.26 L226.69,264.38 L227.14,261.51 L227.60,258.67 L228.06,255.85 L228.52,253.06 L228.98,250.28 L229.44,247.53 L229.90,244.80 L230.36,242.09 L230.82,239.40 L231.28,236.73 L231.74,234.09 L232.19,231.47 L232.65,228.87 L233.11,226.29 L233.57,223.73 L234.03,221.20 L234.49,218.68 L234.95,216.19 L235.41,213.72 L235.87,211.28 L236.33,208.85 L236.79,206.45 L237.25,204.06 L237.70,201.70 L238.16,199.37 L238.62,197.05 L239.08,194.75 L239.54,192.48 L240.00,190.23 L240.46,188.00 L240.92,185.79 L241.38,183.61 L241.84,181.45 L242.30,179.30 L242.75,177.18 L243.21,175.09 L243.67,173.01 L244.13,170.95 L244.59,168.92 L245.05,166.91 L245.51,164.92 L245.97,162.95 L246.43,161.01 L246.89,159.09 L247.35,157.18 L247.81,155.30 L248.26,153.45 L248.72,151.61 L249.18,149.80 L249.64,148.00 L250.10,146.23 L250.56,144.48 L251.02,142.76 L251.48,141.05 L251.94,139.37 L252.40,137.71 L252.86,136.07 L253.31,134.45 L253.77,132.85 L254.23,131.28 L254.69,129.73 L255.15,128.20 L255.61,126.69 L256.07,125.20 L256.53,123.74 L256.99,122.29 L257.45,120.87 L257.91,119.47 L258.37,118.10 L258.82,116.74 L259.28,115.41 L259.74,114.10 L260.20,112.81 L260.66,111.54 L261.12,110.29 L261.58,109.07 L262.04,107.86 L262.50,106.68 L262.96,105.52 L263.42,104.39 L263.87,103.27 L264.33,102.18 L264.79,101.10 L265.25,100.05 L265.71,99.03 L266.17,98.02 L266.63,97.04 L267.09,96.07 L267.55,95.13 L268.01,94.21 L268.47,93.32 L268.93,92.44 L269.38,91.59 L269.84,90.76 L270.30,89.95 L270.76,89.16 L271.22,88.39 L271.68,87.65 L272.14,86.93 L272.60,86.23 L273.06,85.55 L273.52,84.89 L273.98,84.25 L274.43,83.64 L274.89,83.05 L275.35,82.48 L275.81,81.93 L276.27,81.41 L276.73,80.90 L277.19,80.42 L277.65,79.96 L278.11,79.52 L278.57,79.11 L279.03,78.71 L279.49,78.34 L279.94,77.99 L280.40,77.66 L280.86,77.35 L281.32,77.06 L281.78,76.80 L282.24,76.56 L282.70,76.34 L283.16,76.14 L283.62,75.96 L284.08,75.81 L284.54,75.68 L284.99,75.56 L285.45,75.48 L285.91,75.41 L286.37,75.36 L286.83,75.34 L287.29,75.34 L287.75,75.36 L288.21,75.40 L288.67,75.46 L289.13,75.55 L289.59,75.66 L290.05,75.79 L290.50,75.94 L290.96,76.11 L291.42,76.30 L291.88,76.52 L292.34,76.76 L292.80,77.02 L293.26,77.30 L293.72,77.61 L294.18,77.93 L294.64,78.28 L295.10,78.65 L295.55,79.04 L296.01,79.45 L296.47,79.89 L296.93,80.35 L297.39,80.82 L297.85,81.32 L298.31,81.85 L298.77,82.39 L299.23,82.96 L299.69,83.55 L300.15,84.15 L300.61,84.79 L301.06,85.44 L301.52,86.12 L301.98,86.81 L302.44,87.53 L302.90,88.27 L303.36,89.03 L303.82,89.82 L304.28,90.62 L304.74,91.45 L305.20,92.30 L305.66,93.17 L306.11,94.07 L306.57,94.98 L307.03,95.92 L307.49,96.88 L307.95,97.86 L308.41,98.86 L308.87,99.89 L309.33,100.93 L309.79,102.00 L310.25,103.09 L310.71,104.21 L311.17,105.34 L311.62,106.49 L312.08,107.67 L312.54,108.87 L313.00,110.09 L313.46,111.34 L313.92,112.60 L314.38,113.89 L314.84,115.20 L315.30,116.53 L315.76,117.88 L316.22,119.25 L316.67,120.65 L317.13,122.07 L317.59,123.51 L318.05,124.97 L318.51,126.45 L318.97,127.96 L319.43,129.48 L319.89,131.03 L320.35,132.60 L320.81,134.19 L321.27,135.81 L321.73,137.44 L322.18,139.10 L322.64,140.78 L323.10,142.48 L323.56,144.21 L324.02,145.95 L324.48,147.72 L324.94,149.51 L325.40,151.32 L325.86,153.15 L326.32,155.01 L326.78,156.88 L327.23,158.78 L327.69,160.70 L328.15,162.64 L328.61,164.61 L329.07,166.59 L329.53,168.60 L329.99,170.63 L330.45,172.68 L330.91,174.75 L331.37,176.85 L331.83,178.96 L332.29,181.10 L332.74,183.26 L333.20,185.44 L333.66,187.65 L334.12,189.87 L334.58,192.12 L335.04,194.39 L335.50,196.68 L335.96,198.99 L336.42,201.33 L336.88,203.69 L337.34,206.06 L337.79,208.46 L338.25,210.89 L338.71,213.33 L339.17,215.80 L339.63,218.28 L340.09,220.79 L340.55,223.33 L341.01,225.88 L341.47,228.45 L341.93,231.05 L342.39,233.67 L342.85,236.31 L343.30,238.97 L343.76,241.66 L344.22,244.36 L344.68,247.09 L345.14,249.84 L345.60,252.61 L346.06,255.41 L346.52,258.22 L346.98,261.06 L347.44,263.92 L347.90,266.80 L348.35,269.70 L348.81,272.63 L349.27,275.57 L349.73,278.54 L350.19,281.53 L350.65,284.54 L351.11,287.58" stroke="#231f20" stroke-width="1.2" fill="none" stroke-dasharray="6 5" stroke-dashoffset="3"/>
<path d="M284.30,288.14 L284.59,284.74 L284.89,281.36 L285.18,278.00 L285.48,274.67 L285.77,271.36 L286.07,268.08 L286.36,264.82 L286.65,261.58 L286.95,258.37 L287.24,255.18 L287.54,252.02 L287.83,248.88 L288.13,245.76 L288.42,242.67 L288.71,239.60 L289.01,236.55 L289.30,233.53 L289.60,230.53 L289.89,227.56 L290.19,224.61 L290.48,221.68 L290.78,218.78 L291.07,215.90 L291.36,213.05 L291.66,210.22 L291.95,207.41 L292.25,204.63 L292.54,201.87 L292.84,199.14 L293.13,196.43 L293.42,193.74 L293.72,191.08 L294.01,188.44 L294.31,185.82 L294.60,183.23 L294.90,180.66 L295.19,178.12 L295.48,175.60 L295.78,173.10 L296.07,170.63 L296.37,168.18 L296.66,165.75 L296.96,163.35 L297.25,160.98 L297.54,158.62 L297.84,156.29 L298.13,153.99 L298.43,151.71 L298.72,149.45 L299.02,147.22 L299.31,145.01 L299.60,142.82 L299.90,140.66 L300.19,138.52 L300.49,136.41 L300.78,134.32 L301.08,132.25 L301.37,130.21 L301.66,128.19 L301.96,126.19 L302.25,124.22 L302.55,122.27 L302.84,120.35 L303.14,118.45 L303.43,116.57 L303.72,114.72 L304.02,112.89 L304.31,111.09 L304.61,109.31 L304.90,107.55 L305.20,105.82 L305.49,104.11 L305.79,102.43 L306.08,100.77 L306.37,99.13 L306.67,97.52 L306.96,95.93 L307.26,94.36 L307.55,92.82 L307.85,91.30 L308.14,89.81 L308.43,88.34 L308.73,86.89 L309.02,85.47 L309.32,84.07 L309.61,82.70 L309.91,81.34 L310.20,80.02 L310.49,78.71 L310.79,77.44 L311.08,76.18 L311.38,74.95 L311.67,73.74 L311.97,72.56 L312.26,71.40 L312.55,70.26 L312.85,69.15 L313.14,68.06 L313.44,67.00 L313.73,65.96 L314.03,64.94 L314.32,63.95 L314.61,62.98 L314.91,62.03 L315.20,61.11 L315.50,60.22 L315.79,59.34 L316.09,58.49 L316.38,57.67 L316.67,56.86 L316.97,56.09 L317.26,55.33 L317.56,54.60 L317.85,53.90 L318.15,53.21 L318.44,52.55 L318.73,51.92 L319.03,51.31 L319.32,50.72 L319.62,50.16 L319.91,49.62 L320.21,49.10 L320.50,48.61 L320.80,48.15 L321.09,47.70 L321.38,47.28 L321.68,46.89 L321.97,46.51 L322.27,46.16 L322.56,45.84 L322.86,45.54 L323.15,45.26 L323.44,45.01 L323.74,44.78 L324.03,44.58 L324.33,44.39 L324.62,44.24 L324.92,44.10 L325.21,43.99 L325.50,43.91 L325.80,43.85 L326.09,43.81 L326.39,43.79 L326.68,43.80 L326.98,43.84 L327.27,43.89 L327.56,43.97 L327.86,44.08 L328.15,44.21 L328.45,44.36 L328.74,44.54 L329.04,44.74 L329.33,44.96 L329.62,45.21 L329.92,45.48 L330.21,45.78 L330.51,46.10 L330.80,46.44 L331.10,46.81 L331.39,47.20 L331.68,47.62 L331.98,48.06 L332.27,48.52 L332.57,49.01 L332.86,49.52 L333.16,50.05 L333.45,50.61 L333.75,51.19 L334.04,51.80 L334.33,52.43 L334.63,53.08 L334.92,53.76 L335.22,54.46 L335.51,55.19 L335.81,55.94 L336.10,56.71 L336.39,57.51 L336.69,58.33 L336.98,59.17 L337.28,60.04 L337.57,60.93 L337.87,61.85 L338.16,62.79 L338.45,63.76 L338.75,64.74 L339.04,65.76 L339.34,66.79 L339.63,67.85 L339.93,68.93 L340.22,70.04 L340.51,71.17 L340.81,72.33 L341.10,73.51 L341.40,74.71 L341.69,75.94 L341.99,77.19 L342.28,78.46 L342.57,79.76 L342.87,81.08 L343.16,82.43 L343.46,83.80 L343.75,85.19 L344.05,86.61 L344.34,88.05 L344.63,89.52 L344.93,91.01 L345.22,92.52 L345.52,94.06 L345.81,95.62 L346.11,97.20 L346.40,98.81 L346.69,100.44 L346.99,102.10 L347.28,103.78 L347.58,105.48 L347.87,107.21 L348.17,108.96 L348.46,110.74 L348.76,112.54 L349.05,114.36 L349.34,116.21 L349.64,118.08 L349.93,119.98 L350.23,121.89 L350.52,123.84 L350.82,125.80 L351.11,127.79 L351.40,129.81 L351.70,131.85 L351.99,133.91 L352.29,135.99 L352.58,138.10 L352.88,140.24 L353.17,142.39 L353.46,144.58 L353.76,146.78 L354.05,149.01 L354.35,151.26 L354.64,153.54 L354.94,155.84 L355.23,158.17 L355.52,160.51 L355.82,162.89 L356.11,165.28 L356.41,167.70 L356.70,170.15 L357.00,172.61 L357.29,175.11 L357.58,177.62 L357.88,180.16 L358.17,182.72 L358.47,185.31 L358.76,187.92 L359.06,190.56 L359.35,193.21 L359.64,195.90 L359.94,198.60 L360.23,201.33 L360.53,204.09 L360.82,206.87 L361.12,209.67 L361.41,212.49 L361.70,215.34 L362.00,218.22 L362.29,221.11 L362.59,224.04 L362.88,226.98 L363.18,229.95 L363.47,232.94 L363.77,235.96 L364.06,239.00 L364.35,242.06 L364.65,245.15 L364.94,248.26 L365.24,251.40 L365.53,254.56 L365.83,257.74 L366.12,260.95 L366.41,264.18 L366.71,267.44 L367.00,270.72 L367.30,274.02 L367.59,277.35 L367.89,280.70 L368.18,284.07 L368.47,287.47" stroke="#231f20" stroke-width="1.2" fill="none" stroke-dasharray="6 5" stroke-dashoffset="2"/>
<path d="M80.27,241.24 L80.80,240.94 L81.33,240.64 L81.87,240.33 L82.40,240.03 L82.94,239.74 L83.47,239.44 L84.01,239.15 L84.55,238.86 L85.09,238.57 L85.63,238.28 L86.17,238.00 L86.71,237.72 L87.25,237.44 L87.80,237.16 L88.35,236.88 L88.89,236.61 L89.44,236.34 L89.99,236.07 L90.54,235.80 L91.09,235.54 L91.64,235.27 L92.19,235.01 L92.75,234.75 L93.30,234.50 L93.86,234.24 L94.41,233.99 L94.97,233.74 L95.53,233.49 L96.09,233.24 L96.65,233.00 L97.21,232.76 L97.77,232.51 L98.33,232.28 L98.90,232.04 L99.46,231.81 L100.03,231.57 L100.59,231.34 L101.16,231.11 L101.73,230.89 L102.30,230.66 L102.87,230.44 L103.44,230.22 L104.01,230.00 L104.58,229.78 L105.15,229.57 L105.73,229.36 L106.30,229.15 L106.88,228.94 L107.45,228.73 L108.03,228.52 L108.61,228.32 L109.18,228.12 L109.76,227.92 L110.34,227.72 L110.92,227.53 L111.50,227.33 L112.08,227.14 L112.67,226.95 L113.25,226.77 L113.83,226.58 L114.42,226.40 L115.00,226.21 L115.59,226.03 L116.17,225.85 L116.76,225.68 L117.35,225.50 L117.93,225.33 L118.52,225.16 L119.11,224.99 L119.70,224.82 L120.29,224.66 L120.88,224.49 L121.47,224.33 L122.06,224.17 L122.66,224.01 L123.25,223.86 L123.84,223.70 L124.44,223.55 L125.03,223.40 L125.63,223.25 L126.22,223.10 L126.82,222.95 L127.41,222.81 L128.01,222.67 L128.61,222.52 L129.20,222.38 L129.80,222.25 L130.40,222.11 L131.00,221.97 L131.60,221.84 L132.19,221.71 L132.79,221.58 L133.39,221.45 L133.99,221.32 L134.59,221.20 L135.19,221.07 L135.80,220.95 L136.40,220.83 L137.00,220.71 L137.60,220.59 L138.20,220.47 L138.80,220.35 L139.41,220.24 L140.01,220.13 L140.61,220.01 L141.21,219.90 L141.82,219.79 L142.42,219.68 L143.02,219.58 L143.63,219.47 L144.23,219.37 L144.83,219.26 L145.44,219.16 L146.04,219.06 L146.64,218.96 L147.25,218.86 L147.85,218.76 L148.45,218.66 L149.06,218.56 L149.66,218.47 L150.27,218.37 L150.87,218.28 L151.47,218.19 L152.08,218.10 L152.68,218.01 L153.28,217.92 L153.89,217.83 L154.49,217.74 L155.09,217.65 L155.70,217.57 L156.30,217.48 L156.90,217.40 L157.51,217.31 L158.11,217.23 L158.71,217.15 L159.31,217.06 L159.91,216.98 L160.52,216.90 L161.12,216.82 L161.72,216.74 L162.32,216.66 L162.92,216.59 L163.52,216.51 L164.12,216.43 L164.72,216.36 L165.32,216.29 L165.92,216.21 L166.52,216.14 L167.12,216.07 L167.73,216.01 L168.33,215.94 L168.93,215.88 L169.53,215.82 L170.14,215.76 L170.74,215.71 L171.35,215.66 L171.95,215.61 L172.56,215.56 L173.17,215.52 L173.77,215.48 L174.38,215.44 L175.00,215.41 L175.61,215.38 L176.22,215.35 L176.84,215.33 L177.45,215.32 L178.07,215.30 L178.69,215.30 L179.31,215.29 L179.93,215.30 L180.56,215.30 L181.18,215.31 L181.81,215.33 L182.44,215.35 L183.08,215.38 L183.71,215.42 L184.35,215.46 L184.99,215.50 L185.63,215.55 L186.27,215.61 L186.92,215.67 L187.56,215.72 L188.20,215.77 L188.84,215.82 L189.47,215.85 L190.10,215.87 L190.73,215.88 L191.35,215.86 L191.96,215.83 L192.56,215.78 L193.16,215.70 L193.74,215.61 L194.32,215.49 L194.89,215.35 L195.46,215.20 L196.01,215.03 L196.56,214.84 L197.10,214.63 L197.64,214.40 L198.17,214.16 L198.68,213.90 L199.20,213.62 L199.70,213.33 L200.20,213.03 L200.69,212.71 L201.18,212.38 L201.66,212.03 L202.13,211.67 L202.59,211.30 L203.05,210.92 L203.50,210.53 L203.94,210.12 L204.38,209.71 L204.82,209.28 L205.24,208.85 L205.66,208.40 L206.08,207.95 L206.48,207.49 L206.89,207.02 L207.28,206.55 L207.67,206.07 L208.06,205.58 L208.43,205.09 L208.81,204.59 L209.18,204.09 L209.54,203.58 L209.90,203.07 L210.25,202.56 L210.59,202.04 L210.93,201.53 L211.27,201.01 L211.60,200.48 L211.93,199.96 L212.25,199.43 L212.57,198.90 L212.88,198.37 L213.19,197.83 L213.49,197.29 L213.79,196.75 L214.09,196.21 L214.38,195.67 L214.67,195.12 L214.95,194.58 L215.23,194.03 L215.51,193.48 L215.78,192.93 L216.05,192.37 L216.32,191.82 L216.59,191.26 L216.85,190.70 L217.10,190.14 L217.36,189.58 L217.61,189.02 L217.86,188.46 L218.11,187.89 L218.35,187.33 L218.60,186.76 L218.84,186.19 L219.07,185.63 L219.31,185.06 L219.55,184.49 L219.78,183.92 L220.01,183.35 L220.24,182.78 L220.47,182.20 L220.69,181.63 L220.92,181.06 L221.14,180.49 L221.37,179.91 L221.59,179.34 L221.81,178.77 L222.03,178.19 L222.25,177.62 L222.47,177.05 L222.69,176.47 L222.91,175.90 L223.13,175.33 L223.34,174.75 L223.56,174.18 L223.78,173.61 L224.00,173.04 L224.22,172.47 L224.44,171.90 L224.66,171.33 L224.88,170.76 L225.10,170.19 L225.32,169.62 L225.54,169.05 L225.76,168.48 L225.98,167.92 L226.20,167.35 L226.42,166.78 L226.64,166.22 L226.86,165.65 L227.08,165.08 L227.30,164.52 L227.53,163.95 L227.75,163.39 L227.97,162.82 L228.19,162.26 L228.41,161.69 L228.64,161.13 L228.86,160.57 L229.08,160.00 L229.31,159.44 L229.53,158.87 L229.75,158.31 L229.97,157.75 L230.20,157.18 L230.42,156.62 L230.64,156.06 L230.87,155.49 L231.09,154.93 L231.32,154.37 L231.54,153.80 L231.76,153.24 L231.99,152.68 L232.21,152.11 L232.44,151.55 L232.66,150.99 L232.89,150.42 L233.11,149.86 L233.34,149.29 L233.56,148.73 L233.79,148.17 L234.01,147.60 L234.24,147.04 L234.46,146.47 L234.69,145.91 L234.91,145.34 L235.14,144.78 L235.36,144.21 L235.59,143.65 L235.81,143.08 L236.04,142.51 L236.26,141.95 L236.49,141.38 L236.72,140.81 L236.94,140.24 L237.17,139.67 L237.39,139.11 L237.62,138.54 L237.84,137.97 L238.07,137.40 L238.30,136.83 L238.52,136.26 L238.75,135.69 L238.97,135.11 L239.20,134.54 L239.43,133.97 L239.65,133.40 L239.88,132.82 L240.11,132.25 L240.33,131.68 L240.56,131.10 L240.79,130.53 L241.02,129.96 L241.25,129.38 L241.48,128.81 L241.71,128.24 L241.94,127.66 L242.17,127.09 L242.40,126.52 L242.64,125.94 L242.87,125.37 L243.10,124.80 L243.34,124.22 L243.58,123.65 L243.81,123.08 L244.05,122.51 L244.29,121.94 L244.53,121.37 L244.77,120.80 L245.02,120.23 L245.26,119.66 L245.51,119.10 L245.75,118.53 L246.00,117.96 L246.25,117.40 L246.50,116.83 L246.75,116.27 L247.01,115.71 L247.26,115.14 L247.52,114.58 L247.78,114.02 L248.04,113.46 L248.30,112.91 L248.56,112.35 L248.83,111.79 L249.10,111.24 L249.37,110.69 L249.64,110.14 L249.91,109.59 L250.19,109.04 L250.46,108.49 L250.74,107.94 L251.03,107.40 L251.31,106.85 L251.60,106.31 L251.88,105.77 L252.17,105.23 L252.47,104.70 L252.76,104.16 L253.06,103.63 L253.36,103.10 L253.66,102.57 L253.97,102.04 L254.28,101.51 L254.59,100.99 L254.90,100.47 L255.22,99.95 L255.54,99.43 L255.86,98.91 L256.18,98.40 L256.51,97.89 L256.84,97.38 L257.17,96.87 L257.51,96.37 L257.85,95.87 L258.19,95.37 L258.54,94.87 L258.89,94.37 L259.24,93.88 L259.60,93.39 L259.96,92.90 L260.32,92.42 L260.68,91.93 L261.05,91.45 L261.43,90.98 L261.80,90.50 L262.18,90.03 L262.57,89.56 L262.95,89.10 L263.34,88.63 L263.74,88.17 L264.14,87.72 L264.54,87.26 L264.95,86.81 L265.36,86.36 L265.77,85.92 L266.19,85.48 L266.61,85.04 L267.04,84.60 L267.47,84.17 L267.90,83.74 L268.34,83.32 L268.78,82.90 L269.23,82.48 L269.68,82.06 L270.14,81.65 L270.60,81.25 L271.07,80.84 L271.53,80.44 L272.01,80.04 L272.49,79.65 L272.97,79.27 L273.46,78.88 L273.95,78.51 L274.45,78.15 L274.95,77.80 L275.46,77.45 L275.98,77.12 L276.50,76.81 L277.02,76.50 L277.55,76.22 L278.08,75.95 L278.63,75.69 L279.17,75.46 L279.73,75.24 L280.28,75.05 L280.85,74.88 L281.42,74.73 L282.00,74.61 L282.58,74.51 L283.17,74.44 L283.76,74.40 L284.37,74.38 L284.98,74.39 L285.59,74.43 L286.21,74.49 L286.83,74.57 L287.46,74.67 L288.09,74.78 L288.72,74.90 L289.36,75.04 L290.00,75.19 L290.64,75.34 L291.28,75.50 L291.92,75.66 L292.56,75.82 L293.20,75.98 L293.84,76.13 L294.48,76.28 L295.12,76.41 L295.75,76.54 L296.38,76.65 L297.01,76.75 L297.63,76.83 L298.25,76.90 L298.86,76.94 L299.46,76.95 L300.06,76.95 L300.64,76.92 L301.22,76.86 L301.78,76.77 L302.33,76.65 L302.87,76.50 L303.39,76.31 L303.90,76.09 L304.39,75.84 L304.86,75.54 L305.31,75.20 L305.74,74.82 L306.16,74.41 L306.55,73.96 L306.93,73.48 L307.29,72.97 L307.64,72.44 L307.97,71.89 L308.30,71.33 L308.61,70.76 L308.91,70.18 L309.20,69.60 L309.49,69.03 L309.77,68.45 L310.04,67.89 L310.31,67.32 L310.57,66.76 L310.83,66.20 L311.08,65.65 L311.33,65.10 L311.57,64.55 L311.82,64.00 L312.06,63.46 L312.29,62.91 L312.53,62.37 L312.76,61.82 L312.99,61.28 L313.22,60.74 L313.46,60.19 L313.69,59.65 L313.92,59.10 L314.15,58.55 L314.39,58.00 L314.63,57.45 L314.87,56.89 L315.11,56.33 L315.35,55.77 L315.60,55.20 L315.86,54.63 L316.11,54.06 L316.38,53.48 L316.64,52.89 L316.92,52.30 L317.20,51.71 L317.48,51.10 L317.78,50.50 L318.09,49.90 L318.40,49.31 L318.73,48.73 L319.08,48.15 L319.44,47.60 L319.81,47.06 L320.21,46.54 L320.62,46.05 L321.06,45.58 L321.51,45.14 L321.99,44.74 L322.49,44.38 L323.01,44.05 L323.54,43.77 L324.07,43.54 L324.61,43.35 L325.15,43.22 L325.69,43.14 L326.21,43.12 L326.73,43.16 L327.22,43.26 L327.70,43.43 L328.15,43.67 L328.58,43.98 L328.98,44.35 L329.36,44.77 L329.73,45.23 L330.08,45.72 L330.41,46.24 L330.74,46.77 L331.07,47.30 L331.38,47.84 L331.69,48.38 L332.00,48.92 L332.30,49.46 L332.60,50.00 L332.89,50.55 L333.18,51.10 L333.46,51.64 L333.74,52.19 L334.01,52.75 L334.28,53.30 L334.54,53.86 L334.80,54.41 L335.05,54.97 L335.30,55.53 L335.55,56.10 L335.79,56.66 L336.03,57.22 L336.26,57.79 L336.49,58.36 L336.72,58.93 L336.94,59.50 L337.16,60.07 L337.38,60.64 L337.59,61.22 L337.80,61.79 L338.00,62.37 L338.20,62.95 L338.40,63.53 L338.59,64.11 L338.79,64.69 L338.97,65.27 L339.16,65.86 L339.34,66.44 L339.52,67.03 L339.70,67.61 L339.87,68.20 L340.04,68.79 L340.21,69.38 L340.38,69.97 L340.54,70.56 L340.70,71.15 L340.86,71.74 L341.02,72.33 L341.17,72.93 L341.33,73.52 L341.48,74.11 L341.63,74.71 L341.77,75.30 L341.92,75.90 L342.06,76.50 L342.20,77.09 L342.35,77.69 L342.48,78.29 L342.62,78.89 L342.76,79.49 L342.89,80.09 L343.03,80.69 L343.16,81.29 L343.29,81.88 L343.42,82.48 L343.55,83.08 L343.68,83.69 L343.81,84.29 L343.93,84.89 L344.06,85.49 L344.19,86.09 L344.31,86.69 L344.44,87.29 L344.56,87.89 L344.68,88.49 L344.81,89.09 L344.93,89.69 L345.05,90.29 L345.17,90.89 L345.29,91.49 L345.41,92.09 L345.53,92.69 L345.65,93.30 L345.77,93.90 L345.88,94.50 L346.00,95.10 L346.12,95.70 L346.23,96.30 L346.35,96.90 L346.46,97.50 L346.58,98.10 L346.69,98.71 L346.80,99.31 L346.92,99.91 L347.03,100.51 L347.14,101.11 L347.25,101.71 L347.36,102.32 L347.47,102.92 L347.58,103.52 L347.69,104.12 L347.80,104.72 L347.90,105.32 L348.01,105.93 L348.12,106.53 L348.22,107.13 L348.33,107.73 L348.43,108.34 L348.54,108.94 L348.64,109.54 L348.75,110.14 L348.85,110.74 L348.95,111.35 L349.06,111.95 L349.16,112.55 L349.26,113.15 L349.36,113.76 L349.46,114.36 L349.56,114.96 L349.66,115.57 L349.76,116.17 L349.86,116.77 L349.96,117.37 L350.05,117.98 L350.15,118.58 L350.25,119.18 L350.34,119.79 L350.44,120.39 L350.54,120.99 L350.63,121.60 L350.73,122.20 L350.82,122.80 L350.92,123.41 L351.01,124.01 L351.10,124.61 L351.19,125.22 L351.29,125.82 L351.38,126.43 L351.47,127.03 L351.56,127.63 L351.65,128.24 L351.74,128.84 L351.83,129.45 L351.92,130.05 L352.01,130.66 L352.10,131.26 L352.19,131.86 L352.28,132.47 L352.37,133.07 L352.46,133.68 L352.54,134.28 L352.63,134.89 L352.72,135.49 L352.80,136.10 L352.89,136.70 L352.97,137.31 L353.06,137.91 L353.15,138.52 L353.23,139.12 L353.31,139.73 L353.40,140.34 L353.48,140.94 L353.57,141.55 L353.65,142.15 L353.73,142.76 L353.82,143.36 L353.90,143.97 L353.98,144.58 L354.06,145.18 L354.14,145.79 L354.22,146.39 L354.31,147.00 L354.39,147.61 L354.47,148.21 L354.55,148.82 L354.63,149.43 L354.71,150.03 L354.79,150.64 L354.87,151.25 L354.95,151.85 L355.02,152.46 L355.10,153.07 L355.18,153.67 L355.26,154.28 L355.34,154.89 L355.41,155.50 L355.49,156.10 L355.57,156.71 L355.65,157.32 L355.72,157.93 L355.80,158.54 L355.88,159.14 L355.95,159.75 L356.03,160.36 L356.11,160.97 L356.18,161.58 L356.26,162.18 L356.33,162.79 L356.41,163.40 L356.48,164.01 L356.56,164.62 L356.63,165.23 L356.71,165.84 L356.78,166.44 L356.86,167.05 L356.93,167.66 L357.00,168.27 L357.08,168.88 L357.15,169.49 L357.22,170.10 L357.30,170.71 L357.37,171.32 L357.45,171.93 L357.52,172.54 L357.59,173.15" fill="none" stroke="#231f20" stroke-width="1.35"/>
<rect x="62.1" y="13.5" width="321.9" height="277.7" stroke="#231f20" stroke-width="1.5" fill="none"/>
<path d="M62.1,288.90h10.3M384.0,288.90h-10.5M62.1,234.28h10.3M384.0,234.28h-10.5M62.1,179.66h10.3M384.0,179.66h-10.5M62.1,125.04h10.3M384.0,125.04h-10.5M62.1,70.42h10.3M384.0,70.42h-10.5M62.1,15.80h10.3M384.0,15.80h-10.5M116.80,13.5v10.2M116.80,291.2v-10.1M187.32,13.5v10.2M187.32,291.2v-10.1M257.84,13.5v10.2M257.84,291.2v-10.1M328.36,13.5v10.2M328.36,291.2v-10.1" stroke="#231f20" stroke-width="1.5" fill="none"/>
</svg>
<div class="t yl" style="top:281.1px">0</div>
<div class="t yl" style="top:226.5px">2</div>
<div class="t yl" style="top:171.9px">4</div>
<div class="t yl" style="top:117.2px">6</div>
<div class="t yl" style="top:62.6px">8</div>
<div class="t yl" style="top:8.0px">10</div>
<div class="t xl" style="left:97.1px;top:298px">1.0</div>
<div class="t xl" style="left:167.6px;top:298px">1.2</div>
<div class="t xl" style="left:238.1px;top:298px">1.4</div>
<div class="t xl" style="left:308.7px;top:298px">1.6</div>
<div class="t" style="left:177.5px;top:318px">energy (eV)</div>
<div class="t" id="yl" style="left:17.4px;top:262.8px;letter-spacing:0.17px;transform-origin:0 0;transform:rotate(-90deg)">log [ photoluminescence ]  (arb.units)</div>
</body></html>
